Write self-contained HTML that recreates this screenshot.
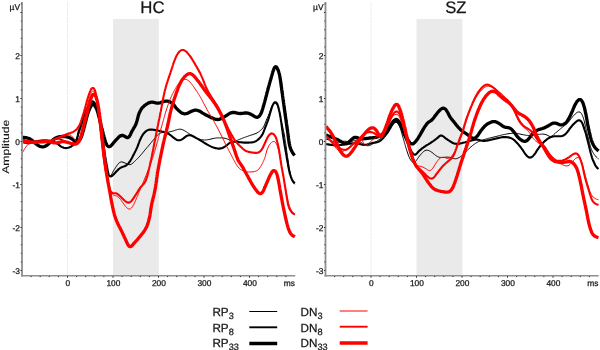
<!DOCTYPE html>
<html><head><meta charset="utf-8"><title>ERP</title>
<style>html,body{margin:0;padding:0;background:#fff;width:600px;height:350px;overflow:hidden}body{font-family:"Liberation Sans",sans-serif}</style>
</head><body>
<svg width="600" height="350" viewBox="0 0 600 350" style="position:absolute;left:0;top:0;font-family:'Liberation Sans',sans-serif;will-change:transform;text-rendering:geometricPrecision">
<style>text{fill:#151515;stroke:#151515;stroke-width:0.25px}</style>
<rect width="600" height="350" fill="#fff"/>
<rect x="113.0" y="19" width="45.8" height="256.3" fill="#ebeaeb"/>
<line x1="67.5" y1="2.5" x2="67.5" y2="275" stroke="#c4c4c4" stroke-width="0.7" stroke-dasharray="0.7,1.1"/>
<rect x="416.5" y="19" width="45.8" height="256.3" fill="#ebeaeb"/>
<line x1="371.0" y1="2.5" x2="371.0" y2="275" stroke="#c4c4c4" stroke-width="0.7" stroke-dasharray="0.7,1.1"/>
<path d="M22.0,141.0L23.1,141.2L24.2,141.4L25.3,141.6L26.3,141.7L27.4,141.8L28.5,141.9L29.6,141.9L30.7,141.9L31.8,141.8L32.9,141.6L34.0,141.4L35.1,141.2L36.2,141.0L37.2,140.8L38.3,140.7L39.4,140.6L40.5,140.6L41.6,140.6L42.7,140.7L43.8,140.9L44.9,141.0L46.0,141.2L47.1,141.3L48.2,141.4L49.3,141.4L50.4,141.4L51.4,141.2L52.5,140.9L53.5,140.5L54.6,140.1L55.6,139.7L56.6,139.4L57.7,139.2L58.8,139.1L59.9,139.2L61.0,139.5L62.0,139.8L63.1,140.2L64.1,140.6L65.1,141.0L66.1,141.4L67.1,141.9L68.1,142.3L69.2,142.7L70.3,142.9L71.3,143.0L72.4,143.0L73.5,142.7L74.5,142.3L75.4,141.6L76.1,140.8L76.7,139.9L77.2,138.9L77.6,137.9L78.0,136.8L78.3,135.8L78.6,134.7L79.0,133.7L79.3,132.6L79.6,131.6L80.0,130.5L80.3,129.5L80.7,128.5L81.0,127.4L81.4,126.4L81.7,125.3L82.1,124.3L82.4,123.2L82.8,122.2L83.1,121.1L83.4,120.1L83.8,119.1L84.1,118.0L84.5,117.0L84.9,115.9L85.2,114.9L85.6,113.9L86.0,112.8L86.4,111.8L86.8,110.8L87.2,109.8L87.6,108.7L88.0,107.7L88.4,106.7L88.9,105.7L89.4,104.7L89.9,103.8L90.5,102.8L91.1,101.9L91.9,101.1L92.9,100.8L93.8,101.4L94.5,102.3L95.0,103.3L95.4,104.3L95.8,105.3L96.1,106.4L96.4,107.4L96.6,108.5L96.9,109.6L97.2,110.6L97.4,111.7L97.6,112.8L97.9,113.9L98.1,114.9L98.3,116.0L98.5,117.1L98.7,118.2L98.9,119.2L99.2,120.3L99.4,121.4L99.6,122.5L99.7,123.6L99.9,124.7L100.1,125.7L100.3,126.8L100.5,127.9L100.6,129.0L100.8,130.1L101.0,131.2L101.1,132.3L101.3,133.3L101.5,134.4L101.6,135.5L101.8,136.6L101.9,137.7L102.1,138.8L102.2,139.9L102.4,141.0L102.5,142.1L102.7,143.1L102.8,144.2L103.0,145.3L103.2,146.4L103.3,147.5L103.5,148.6L103.6,149.7L103.8,150.8L104.0,151.9L104.2,152.9L104.3,154.0L104.5,155.1L104.7,156.2L104.9,157.3L105.1,158.4L105.2,159.4L105.4,160.5L105.6,161.6L105.8,162.7L106.0,163.8L106.2,164.9L106.4,165.9L106.6,167.0L106.9,168.1L107.1,169.2L107.3,170.2L107.6,171.3L107.8,172.4L108.1,173.5L108.4,174.5L108.9,175.5L109.7,176.3L110.7,176.0L111.3,175.1L111.9,174.1L112.3,173.2L112.8,172.2L113.3,171.2L113.9,170.2L114.5,169.3L115.1,168.4L115.7,167.4L116.3,166.5L116.9,165.6L117.5,164.7L118.2,163.9L119.0,163.1L119.8,162.4L120.8,162.0L121.9,161.9L123.0,162.2L124.0,162.6L125.0,163.0L126.0,163.5L127.0,164.0L128.0,164.4L129.1,164.7L130.2,164.6L131.2,164.3L132.1,163.7L133.0,162.9L133.8,162.2L134.6,161.4L135.4,160.7L136.2,159.9L136.9,159.2L137.7,158.4L138.5,157.6L139.2,156.8L140.0,156.0L140.7,155.2L141.4,154.3L142.1,153.5L142.8,152.6L143.5,151.8L144.2,150.9L144.9,150.1L145.6,149.2L146.3,148.4L147.0,147.5L147.8,146.7L148.5,145.9L149.2,145.0L149.9,144.2L150.6,143.3L151.3,142.5L152.0,141.6L152.7,140.8L153.4,139.9L154.1,139.1L154.8,138.2L155.5,137.4L156.2,136.6L156.9,135.8L157.7,134.9L158.5,134.2L159.4,133.5L160.4,133.1L161.4,132.8L162.5,132.6L163.6,132.6L164.7,132.6L165.8,132.5L166.9,132.4L168.0,132.2L169.1,132.0L170.1,131.7L171.2,131.5L172.3,131.2L173.3,130.9L174.4,130.6L175.4,130.2L176.5,129.9L177.5,129.5L178.6,129.3L179.7,129.2L180.8,129.2L181.8,129.5L182.9,129.9L183.9,130.4L184.8,130.9L185.8,131.5L186.7,132.1L187.6,132.7L188.5,133.3L189.5,133.9L190.4,134.4L191.3,135.0L192.3,135.6L193.2,136.2L194.1,136.8L195.0,137.4L196.0,138.0L196.9,138.5L198.0,138.9L199.0,139.2L200.1,139.5L201.2,139.7L202.3,139.8L203.3,139.9L204.4,140.0L205.5,140.0L206.6,139.9L207.7,139.7L208.8,139.5L209.9,139.3L211.0,139.0L212.0,138.8L213.1,138.5L214.2,138.3L215.3,138.1L216.4,138.0L217.4,137.9L218.5,137.9L219.6,137.9L220.7,137.9L221.8,137.9L222.9,138.0L224.0,138.1L225.1,138.3L226.2,138.6L227.2,138.9L228.2,139.4L229.2,139.9L230.1,140.5L231.1,141.0L232.1,141.4L233.2,141.5L234.3,141.4L235.4,141.1L236.4,140.7L237.4,140.3L238.4,139.9L239.4,139.4L240.5,139.0L241.5,138.6L242.5,138.2L243.5,137.8L244.6,137.4L245.6,137.0L246.6,136.7L247.7,136.3L248.7,135.9L249.7,135.6L250.8,135.2L251.8,134.9L252.9,134.6L253.9,134.2L255.0,133.8L256.0,133.4L257.0,132.9L257.9,132.4L258.8,131.8L259.7,131.1L260.5,130.4L261.4,129.7L262.1,128.9L262.8,128.0L263.4,127.1L264.0,126.1L264.4,125.1L264.8,124.1L265.2,123.1L265.6,122.1L266.0,121.0L266.4,120.0L266.9,119.0L267.3,118.0L267.8,117.0L268.2,116.0L268.6,115.0L269.0,113.9L269.4,112.9L269.7,111.9L270.1,110.8L270.4,109.8L270.8,108.8L271.2,107.7L271.7,106.7L272.2,105.8L272.8,104.9L273.6,104.1L274.6,103.5L275.6,103.6L276.5,104.2L277.2,105.0L277.7,106.0L278.1,107.0L278.5,108.1L278.8,109.1L279.1,110.2L279.3,111.3L279.5,112.3L279.7,113.4L279.9,114.5L280.1,115.6L280.3,116.7L280.5,117.7L280.8,118.8L281.0,119.9L281.2,121.0L281.5,122.0L281.7,123.1L282.0,124.2L282.3,125.3L282.5,126.3L282.8,127.4L283.0,128.5L283.3,129.5L283.5,130.6L283.7,131.7L284.0,132.8L284.2,133.8L284.4,134.9L284.6,136.0L284.7,137.1L284.9,138.2L285.1,139.3L285.3,140.4L285.4,141.4L285.6,142.5L285.7,143.6L285.9,144.7L286.0,145.8L286.2,146.9L286.3,148.0L286.5,149.1L286.6,150.2L286.8,151.2L286.9,152.3L287.1,153.4L287.2,154.5L287.4,155.6L287.6,156.7L287.7,157.8L287.9,158.9L288.0,160.0L288.2,161.0L288.4,162.1L288.5,163.2L288.7,164.3L288.9,165.4L289.1,166.5L289.2,167.6L289.4,168.6L289.6,169.7L289.8,170.8L290.0,171.9L290.2,173.0L290.4,174.1L290.6,175.1L290.8,176.2L291.1,177.3L291.4,178.3L291.7,179.4L292.1,180.4L292.5,181.4L293.1,182.4L293.7,183.3L294.4,184.2L294.5,184.3" fill="none" stroke="#000000" stroke-width="1.0" stroke-linejoin="round" stroke-linecap="butt"/>
<path d="M22.0,141.5L23.0,141.9L24.0,142.3L25.1,142.7L26.2,142.9L27.2,143.1L28.3,143.1L29.4,143.1L30.5,143.0L31.6,142.8L32.7,142.5L33.7,142.2L34.8,141.9L35.8,141.6L36.9,141.3L38.0,141.0L39.1,140.8L40.1,140.7L41.2,140.5L42.3,140.5L43.4,140.4L44.5,140.5L45.6,140.5L46.7,140.6L47.8,140.7L48.9,140.8L50.0,141.0L51.1,141.2L52.1,141.5L53.2,141.8L54.2,142.1L55.3,142.6L56.2,143.0L57.2,143.6L58.1,144.2L58.9,144.9L59.8,145.6L60.7,146.3L61.6,146.9L62.6,147.3L63.6,147.7L64.7,148.0L65.8,148.1L66.9,148.0L68.0,147.8L69.0,147.5L70.1,147.1L71.0,146.6L71.9,145.9L72.8,145.3L73.6,144.5L74.4,143.7L75.1,142.9L75.7,142.0L76.2,141.0L76.6,140.0L76.9,138.9L77.2,137.9L77.4,136.8L77.7,135.7L77.9,134.6L78.1,133.6L78.4,132.5L78.7,131.4L79.0,130.4L79.4,129.3L79.8,128.3L80.2,127.3L80.5,126.2L80.9,125.2L81.3,124.2L81.7,123.1L82.0,122.1L82.4,121.1L82.8,120.0L83.1,119.0L83.5,118.0L83.9,116.9L84.2,115.9L84.6,114.8L85.0,113.8L85.3,112.8L85.7,111.7L86.1,110.7L86.5,109.7L87.0,108.7L87.4,107.7L88.0,106.7L88.5,105.8L89.1,104.9L89.8,104.0L90.4,103.1L91.2,102.3L92.1,101.7L93.2,101.7L94.1,102.4L94.8,103.2L95.4,104.1L95.9,105.1L96.3,106.1L96.7,107.1L97.0,108.2L97.3,109.3L97.6,110.3L97.9,111.4L98.1,112.5L98.3,113.5L98.6,114.6L98.8,115.7L99.0,116.8L99.2,117.9L99.4,118.9L99.6,120.0L99.8,121.1L100.0,122.2L100.2,123.3L100.4,124.3L100.6,125.4L100.7,126.5L100.9,127.6L101.1,128.7L101.3,129.8L101.5,130.9L101.6,131.9L101.8,133.0L102.0,134.1L102.1,135.2L102.3,136.3L102.4,137.4L102.6,138.5L102.8,139.6L102.9,140.6L103.1,141.7L103.2,142.8L103.4,143.9L103.5,145.0L103.7,146.1L103.8,147.2L104.0,148.3L104.2,149.4L104.3,150.5L104.5,151.5L104.6,152.6L104.8,153.7L105.0,154.8L105.1,155.9L105.3,157.0L105.5,158.1L105.7,159.1L105.8,160.2L106.0,161.3L106.2,162.4L106.4,163.5L106.6,164.6L106.8,165.7L107.0,166.7L107.2,167.8L107.4,168.9L107.6,170.0L107.8,171.1L108.0,172.1L108.3,173.2L108.6,174.3L109.0,175.3L109.7,176.2L110.7,176.5L111.7,176.1L112.5,175.4L113.3,174.7L114.1,173.9L114.9,173.1L115.6,172.3L116.3,171.5L117.1,170.7L117.9,169.9L118.7,169.1L119.5,168.5L120.5,167.8L121.4,167.3L122.5,166.9L123.5,166.6L124.5,166.2L125.5,165.7L126.5,165.2L127.3,164.5L128.1,163.7L128.8,162.9L129.5,162.0L130.1,161.1L130.7,160.1L131.2,159.2L131.8,158.2L132.3,157.3L132.8,156.3L133.3,155.3L133.8,154.3L134.3,153.4L134.8,152.4L135.3,151.4L135.8,150.4L136.3,149.4L136.7,148.4L137.2,147.4L137.6,146.4L138.0,145.4L138.3,144.3L138.7,143.3L139.1,142.3L139.5,141.2L139.9,140.2L140.4,139.2L140.9,138.2L141.3,137.2L141.9,136.3L142.4,135.3L143.0,134.4L143.7,133.5L144.4,132.7L145.2,131.9L146.0,131.2L146.9,130.6L147.9,130.1L149.0,129.8L150.0,129.6L151.1,129.5L152.2,129.6L153.3,129.7L154.4,129.9L155.5,130.1L156.6,130.3L157.7,130.5L158.7,130.7L159.8,131.0L160.9,131.2L161.9,131.5L163.0,131.8L164.1,132.1L165.1,132.4L166.1,132.8L167.2,133.2L168.2,133.7L169.1,134.2L170.0,134.8L170.9,135.5L171.8,136.2L172.6,136.9L173.5,137.6L174.3,138.2L175.2,138.9L176.1,139.5L177.1,140.0L178.2,140.3L179.3,140.3L180.3,140.1L181.4,139.7L182.3,139.2L183.2,138.6L184.1,137.9L185.0,137.2L185.8,136.5L186.8,135.9L187.8,135.5L188.8,135.2L189.9,135.2L191.0,135.4L192.0,135.8L193.0,136.3L194.0,136.8L195.0,137.3L195.9,137.8L196.9,138.4L197.9,138.9L198.8,139.5L199.8,140.0L200.7,140.6L201.7,141.1L202.6,141.7L203.5,142.3L204.5,142.9L205.4,143.5L206.3,144.0L207.3,144.6L208.3,145.1L209.2,145.6L210.2,146.1L211.2,146.6L212.2,147.0L213.3,147.4L214.3,147.7L215.3,148.1L216.4,148.3L217.5,148.5L218.6,148.6L219.7,148.6L220.8,148.4L221.8,148.2L222.9,147.7L223.8,147.3L224.8,146.7L225.7,146.1L226.6,145.5L227.4,144.7L228.3,144.0L229.1,143.3L230.0,142.7L231.0,142.2L232.1,141.9L233.1,141.8L234.2,141.8L235.3,141.8L236.4,141.9L237.5,142.0L238.6,142.1L239.7,142.2L240.8,142.3L241.9,142.4L243.0,142.5L244.1,142.6L245.2,142.6L246.3,142.6L247.4,142.6L248.5,142.6L249.6,142.5L250.7,142.5L251.8,142.4L252.9,142.2L254.0,141.9L255.0,141.6L256.0,141.1L256.9,140.5L257.8,139.9L258.6,139.1L259.4,138.4L260.2,137.6L260.9,136.7L261.5,135.8L262.1,134.9L262.7,134.0L263.1,133.0L263.6,131.9L263.9,130.9L264.3,129.9L264.7,128.8L265.1,127.8L265.5,126.8L265.9,125.8L266.3,124.8L266.7,123.7L267.1,122.7L267.5,121.7L267.9,120.6L268.2,119.6L268.6,118.6L268.9,117.5L269.2,116.5L269.5,115.4L269.8,114.3L270.1,113.3L270.4,112.2L270.7,111.2L271.0,110.1L271.3,109.1L271.7,108.0L272.0,107.0L272.4,105.9L272.9,104.9L273.4,103.9L273.9,103.0L274.7,102.3L275.8,102.2L276.6,103.0L277.2,103.9L277.6,104.9L278.0,106.0L278.3,107.0L278.6,108.1L278.8,109.2L279.1,110.2L279.3,111.3L279.6,112.4L279.8,113.5L280.0,114.5L280.2,115.6L280.4,116.7L280.6,117.8L280.7,118.9L280.9,120.0L281.1,121.0L281.2,122.1L281.4,123.2L281.5,124.3L281.7,125.4L281.8,126.5L282.0,127.6L282.1,128.7L282.3,129.8L282.4,130.9L282.6,131.9L282.7,133.0L282.9,134.1L283.0,135.2L283.2,136.3L283.4,137.4L283.5,138.5L283.7,139.6L283.9,140.6L284.1,141.7L284.2,142.8L284.4,143.9L284.6,145.0L284.8,146.1L285.0,147.2L285.2,148.2L285.3,149.3L285.5,150.4L285.7,151.5L285.9,152.6L286.1,153.7L286.3,154.7L286.5,155.8L286.6,156.9L286.8,158.0L287.0,159.1L287.2,160.2L287.4,161.2L287.6,162.3L287.8,163.4L288.0,164.5L288.1,165.6L288.3,166.7L288.6,167.7L288.8,168.8L289.0,169.9L289.2,171.0L289.5,172.0L289.7,173.1L290.0,174.2L290.4,175.2L290.7,176.3L291.1,177.3L291.4,178.3L291.9,179.4L292.4,180.3L292.9,181.3L293.7,182.1L294.5,182.8L295.0,183.2" fill="none" stroke="#000000" stroke-width="2.1" stroke-linejoin="round" stroke-linecap="butt"/>
<path d="M22.0,137.3L23.1,137.4L24.2,137.5L25.3,137.6L26.4,137.7L27.4,138.0L28.5,138.3L29.5,138.8L30.5,139.3L31.4,139.9L32.3,140.6L33.1,141.3L33.9,142.0L34.7,142.7L35.6,143.5L36.4,144.1L37.3,144.8L38.2,145.4L39.2,146.0L40.2,146.4L41.2,146.7L42.3,146.8L43.4,146.8L44.5,146.5L45.5,146.1L46.5,145.6L47.3,144.9L48.2,144.2L49.0,143.5L49.8,142.7L50.6,142.0L51.4,141.2L52.2,140.5L53.1,139.8L53.9,139.1L54.9,138.5L55.8,138.0L56.8,137.5L57.9,137.1L58.9,136.9L60.0,136.7L61.1,136.6L62.2,136.5L63.3,136.5L64.4,136.6L65.5,136.7L66.6,136.9L67.7,137.1L68.7,137.4L69.7,137.8L70.7,138.3L71.7,138.8L72.6,139.4L73.5,140.1L74.4,140.7L75.3,141.3L76.4,141.6L77.5,141.6L78.5,141.1L79.3,140.4L79.9,139.5L80.5,138.6L81.0,137.6L81.4,136.6L81.8,135.5L82.1,134.5L82.5,133.4L82.8,132.4L83.1,131.3L83.4,130.3L83.7,129.2L83.9,128.1L84.2,127.1L84.5,126.0L84.8,124.9L85.0,123.9L85.3,122.8L85.6,121.8L85.9,120.7L86.1,119.6L86.4,118.6L86.7,117.5L87.0,116.4L87.3,115.4L87.6,114.3L87.9,113.3L88.3,112.2L88.7,111.2L89.1,110.2L89.5,109.2L89.9,108.2L90.4,107.2L90.9,106.2L91.5,105.3L92.4,104.6L93.4,104.6L94.3,105.2L95.0,106.1L95.6,107.0L96.1,108.0L96.6,109.0L97.0,110.0L97.3,111.0L97.7,112.1L98.0,113.1L98.3,114.2L98.5,115.3L98.8,116.3L99.1,117.4L99.4,118.5L99.6,119.5L99.9,120.6L100.1,121.7L100.4,122.7L100.7,123.8L100.9,124.9L101.2,125.9L101.5,127.0L101.8,128.1L102.1,129.1L102.3,130.2L102.6,131.3L102.9,132.3L103.1,133.4L103.4,134.5L103.7,135.5L104.0,136.6L104.3,137.6L104.6,138.7L104.9,139.8L105.2,140.8L105.5,141.8L105.9,142.9L106.4,143.9L106.8,144.9L107.4,145.8L108.3,146.5L109.4,146.6L110.4,146.2L111.2,145.5L112.0,144.7L112.7,143.9L113.4,143.0L114.1,142.2L114.8,141.3L115.6,140.5L116.3,139.7L117.1,138.9L117.8,138.1L118.6,137.3L119.4,136.6L120.3,135.9L121.3,135.5L122.4,135.4L123.5,135.6L124.4,136.1L125.3,136.8L126.3,137.3L127.4,137.6L128.4,137.3L129.2,136.6L129.8,135.6L130.3,134.7L130.8,133.7L131.2,132.7L131.7,131.7L132.2,130.7L132.8,129.8L133.4,128.8L133.9,127.9L134.5,126.9L135.0,126.0L135.5,125.0L136.0,124.0L136.3,123.0L136.7,121.9L137.0,120.9L137.3,119.8L137.6,118.7L137.8,117.7L138.1,116.6L138.4,115.5L138.7,114.5L139.1,113.4L139.5,112.4L140.0,111.4L140.5,110.5L141.0,109.5L141.7,108.6L142.3,107.7L143.1,106.9L143.9,106.2L144.7,105.4L145.6,104.8L146.5,104.1L147.4,103.6L148.4,103.0L149.4,102.6L150.4,102.3L151.5,102.1L152.6,102.2L153.7,102.4L154.8,102.6L155.8,102.9L156.9,103.1L158.0,103.1L159.1,103.0L160.2,102.8L161.2,102.4L162.3,102.0L163.3,101.7L164.3,101.4L165.4,101.2L166.5,101.1L167.6,101.2L168.7,101.4L169.7,101.8L170.7,102.3L171.6,102.9L172.5,103.6L173.3,104.3L174.0,105.2L174.7,106.0L175.3,106.9L176.0,107.8L176.7,108.6L177.5,109.4L178.3,110.2L179.1,110.9L179.9,111.6L180.8,112.3L181.7,112.9L182.7,113.4L183.8,113.7L184.8,113.8L185.9,113.7L187.0,113.4L188.0,113.1L189.0,112.6L190.0,112.1L191.0,111.6L192.0,111.1L193.0,110.7L194.1,110.4L195.1,110.2L196.2,110.2L197.3,110.3L198.4,110.7L199.4,111.1L200.4,111.6L201.3,112.2L202.2,112.8L203.2,113.4L204.1,113.9L205.0,114.5L206.0,115.0L207.0,115.5L208.0,116.0L209.0,116.4L210.0,116.9L211.0,117.4L212.0,117.9L213.0,118.3L214.0,118.7L215.0,119.1L216.1,119.3L217.2,119.5L218.3,119.5L219.4,119.3L220.4,118.9L221.4,118.4L222.4,117.9L223.3,117.4L224.3,116.8L225.2,116.3L226.2,115.7L227.1,115.1L228.0,114.5L228.9,113.9L229.9,113.3L230.9,112.9L231.9,112.6L233.0,112.4L234.1,112.5L235.2,112.6L236.3,112.8L237.4,113.1L238.4,113.3L239.5,113.5L240.6,113.5L241.7,113.4L242.8,113.3L243.9,113.1L245.0,113.0L246.1,112.9L247.2,113.0L248.3,113.2L249.3,113.6L250.3,114.0L251.3,114.5L252.2,115.1L253.2,115.6L254.1,116.2L255.1,116.7L256.1,117.1L257.2,117.3L258.2,117.0L259.1,116.3L259.8,115.5L260.4,114.5L260.9,113.6L261.4,112.6L261.8,111.5L262.1,110.5L262.5,109.5L262.8,108.4L263.1,107.4L263.4,106.3L263.7,105.3L264.0,104.2L264.3,103.1L264.6,102.1L264.9,101.0L265.2,99.9L265.5,98.9L265.7,97.8L266.0,96.8L266.3,95.7L266.6,94.6L266.8,93.6L267.1,92.5L267.4,91.4L267.7,90.4L268.0,89.3L268.2,88.2L268.5,87.2L268.8,86.1L269.1,85.1L269.4,84.0L269.7,82.9L270.0,81.9L270.3,80.8L270.6,79.8L270.9,78.7L271.2,77.6L271.5,76.6L271.8,75.5L272.1,74.5L272.4,73.4L272.7,72.4L273.0,71.3L273.4,70.3L273.8,69.2L274.2,68.2L274.7,67.3L275.6,66.7L276.5,67.1L277.1,68.1L277.6,69.1L278.0,70.1L278.5,71.1L278.8,72.1L279.1,73.2L279.4,74.2L279.6,75.3L279.8,76.4L280.0,77.5L280.2,78.6L280.4,79.7L280.5,80.8L280.7,81.8L280.8,82.9L281.0,84.0L281.1,85.1L281.3,86.2L281.4,87.3L281.6,88.4L281.7,89.5L281.9,90.6L282.0,91.6L282.2,92.7L282.3,93.8L282.5,94.9L282.6,96.0L282.8,97.1L282.9,98.2L283.1,99.3L283.2,100.4L283.4,101.5L283.5,102.5L283.7,103.6L283.8,104.7L284.0,105.8L284.1,106.9L284.3,108.0L284.4,109.1L284.6,110.2L284.7,111.3L284.9,112.4L285.0,113.4L285.2,114.5L285.3,115.6L285.5,116.7L285.6,117.8L285.8,118.9L286.0,120.0L286.1,121.1L286.3,122.2L286.4,123.2L286.6,124.3L286.7,125.4L286.9,126.5L287.0,127.6L287.2,128.7L287.4,129.8L287.5,130.9L287.7,132.0L287.8,133.0L288.0,134.1L288.1,135.2L288.2,136.3L288.4,137.4L288.5,138.5L288.7,139.6L288.8,140.7L289.0,141.8L289.1,142.9L289.3,143.9L289.6,145.0L289.8,146.1L290.1,147.1L290.4,148.2L290.8,149.2L291.3,150.2L291.8,151.2L292.3,152.1L292.9,153.1L293.5,154.0L294.1,154.9L294.5,155.5" fill="none" stroke="#000000" stroke-width="3.3" stroke-linejoin="round" stroke-linecap="butt"/>
<path d="M22.0,153.5L22.5,152.5L23.0,151.6L23.6,150.6L24.1,149.7L24.7,148.7L25.3,147.8L25.9,146.9L26.6,146.0L27.3,145.2L28.1,144.4L29.0,143.7L29.9,143.1L30.9,142.6L31.9,142.2L32.9,141.8L34.0,141.4L35.0,141.2L36.1,141.1L37.2,141.1L38.3,141.2L39.4,141.4L40.5,141.6L41.6,141.8L42.7,141.9L43.8,141.9L44.9,141.9L46.0,141.8L47.0,141.6L48.1,141.4L49.2,141.2L50.3,140.9L51.3,140.7L52.4,140.4L53.5,140.2L54.6,139.9L55.6,139.6L56.7,139.4L57.7,139.1L58.8,138.7L59.8,138.3L60.9,138.0L61.9,137.5L62.9,137.1L63.9,136.7L64.9,136.3L65.9,135.8L66.9,135.4L68.0,135.1L69.1,134.9L70.1,135.0L71.1,135.5L71.9,136.3L72.7,137.1L73.3,138.0L74.0,138.8L74.7,139.7L75.4,140.5L76.3,141.1L77.4,141.0L78.2,140.2L78.8,139.3L79.2,138.3L79.6,137.3L80.0,136.2L80.3,135.2L80.6,134.1L80.9,133.1L81.2,132.0L81.5,130.9L81.8,129.9L82.1,128.8L82.4,127.7L82.6,126.7L82.9,125.6L83.2,124.5L83.4,123.5L83.7,122.4L83.9,121.3L84.2,120.3L84.4,119.2L84.7,118.1L84.9,117.1L85.2,116.0L85.4,114.9L85.6,113.8L85.8,112.7L86.0,111.7L86.3,110.6L86.5,109.5L86.7,108.4L87.0,107.4L87.2,106.3L87.5,105.2L87.7,104.2L88.0,103.1L88.3,102.0L88.5,101.0L88.8,99.9L89.1,98.8L89.4,97.8L89.8,96.7L90.1,95.7L90.5,94.6L90.9,93.6L91.3,92.6L91.8,91.7L92.7,90.9L93.7,91.1L94.4,92.0L94.8,93.0L95.2,94.0L95.5,95.1L95.8,96.2L96.0,97.2L96.2,98.3L96.4,99.4L96.6,100.5L96.8,101.6L96.9,102.6L97.1,103.7L97.3,104.8L97.4,105.9L97.6,107.0L97.7,108.1L97.9,109.2L98.0,110.3L98.2,111.4L98.3,112.5L98.4,113.5L98.6,114.6L98.7,115.7L98.8,116.8L99.0,117.9L99.1,119.0L99.2,120.1L99.3,121.2L99.5,122.3L99.6,123.4L99.7,124.5L99.8,125.6L99.9,126.7L100.1,127.8L100.2,128.8L100.3,129.9L100.4,131.0L100.6,132.1L100.7,133.2L100.8,134.3L100.9,135.4L101.1,136.5L101.2,137.6L101.3,138.7L101.4,139.8L101.6,140.9L101.7,142.0L101.8,143.1L101.9,144.1L102.1,145.2L102.2,146.3L102.3,147.4L102.4,148.5L102.6,149.6L102.7,150.7L102.8,151.8L103.0,152.9L103.1,154.0L103.2,155.1L103.4,156.2L103.5,157.3L103.6,158.3L103.8,159.4L103.9,160.5L104.1,161.6L104.3,162.7L104.4,163.8L104.6,164.9L104.8,166.0L104.9,167.0L105.1,168.1L105.3,169.2L105.5,170.3L105.7,171.4L105.9,172.5L106.1,173.5L106.3,174.6L106.5,175.7L106.8,176.8L107.0,177.9L107.2,178.9L107.4,180.0L107.7,181.1L107.9,182.2L108.1,183.2L108.4,184.3L108.7,185.4L108.9,186.4L109.2,187.5L109.5,188.5L109.9,189.6L110.3,190.6L110.7,191.6L111.2,192.6L111.8,193.5L112.6,194.3L113.4,195.0L114.5,195.4L115.5,195.7L116.6,196.0L117.5,196.5L118.4,197.2L119.2,198.0L119.9,198.8L120.7,199.6L121.3,200.5L122.0,201.4L122.6,202.3L123.2,203.2L123.9,204.1L124.5,205.0L125.1,205.9L125.8,206.7L126.6,207.5L127.4,208.3L128.3,208.8L129.4,209.1L130.5,208.8L131.3,208.1L132.1,207.3L132.7,206.4L133.2,205.4L133.8,204.5L134.2,203.5L134.7,202.5L135.2,201.5L135.6,200.5L136.0,199.5L136.5,198.4L136.9,197.4L137.3,196.4L137.8,195.4L138.2,194.4L138.6,193.4L139.0,192.4L139.4,191.3L139.9,190.3L140.3,189.3L140.7,188.3L141.1,187.3L141.6,186.3L142.0,185.2L142.4,184.2L142.8,183.2L143.3,182.2L143.7,181.2L144.1,180.2L144.5,179.1L144.9,178.1L145.3,177.1L145.8,176.1L146.2,175.1L146.6,174.1L147.0,173.0L147.4,172.0L147.8,171.0L148.2,170.0L148.6,169.0L149.0,167.9L149.5,166.9L149.9,165.9L150.3,164.9L150.6,163.8L151.0,162.8L151.4,161.8L151.7,160.7L152.1,159.7L152.4,158.6L152.8,157.6L153.1,156.5L153.4,155.5L153.7,154.4L154.0,153.4L154.4,152.3L154.7,151.3L155.0,150.2L155.3,149.1L155.6,148.1L155.9,147.0L156.2,146.0L156.5,144.9L156.8,143.9L157.1,142.8L157.4,141.7L157.7,140.7L158.0,139.6L158.2,138.6L158.5,137.5L158.8,136.4L159.1,135.4L159.4,134.3L159.7,133.3L160.0,132.2L160.3,131.1L160.6,130.1L160.9,129.0L161.2,128.0L161.5,126.9L161.8,125.8L162.1,124.8L162.4,123.7L162.7,122.7L163.0,121.6L163.3,120.5L163.6,119.5L163.9,118.4L164.2,117.4L164.5,116.3L164.8,115.3L165.1,114.2L165.4,113.1L165.7,112.1L166.0,111.0L166.4,110.0L166.7,108.9L167.0,107.9L167.4,106.9L167.7,105.8L168.1,104.8L168.5,103.7L168.9,102.7L169.2,101.7L169.6,100.7L170.0,99.6L170.5,98.6L170.9,97.6L171.3,96.6L171.8,95.6L172.2,94.6L172.7,93.6L173.2,92.6L173.7,91.6L174.2,90.7L174.8,89.7L175.3,88.7L175.9,87.8L176.5,86.9L177.1,85.9L177.7,85.0L178.3,84.1L179.0,83.3L179.7,82.4L180.4,81.6L181.2,80.9L182.1,80.2L183.1,79.7L184.1,79.3L185.2,79.3L186.3,79.5L187.3,79.9L188.2,80.5L189.1,81.2L189.9,82.0L190.6,82.8L191.3,83.6L192.0,84.5L192.6,85.4L193.3,86.3L193.9,87.2L194.5,88.1L195.2,89.0L195.8,89.9L196.4,90.8L197.0,91.7L197.6,92.6L198.2,93.6L198.8,94.5L199.4,95.4L199.9,96.4L200.5,97.3L201.0,98.3L201.6,99.2L202.1,100.2L202.6,101.2L203.1,102.2L203.6,103.1L204.1,104.1L204.6,105.1L205.2,106.1L205.7,107.0L206.2,108.0L206.7,109.0L207.2,109.9L207.8,110.9L208.3,111.8L208.9,112.8L209.4,113.7L210.0,114.7L210.5,115.6L211.1,116.6L211.7,117.5L212.2,118.5L212.8,119.4L213.3,120.4L213.9,121.4L214.4,122.3L214.9,123.3L215.5,124.2L216.0,125.2L216.5,126.2L217.1,127.1L217.6,128.1L218.1,129.1L218.6,130.0L219.1,131.0L219.6,132.0L220.1,133.0L220.6,134.0L221.1,135.0L221.5,136.0L222.0,136.9L222.5,137.9L223.0,138.9L223.5,139.9L224.0,140.9L224.5,141.9L224.9,142.9L225.4,143.8L225.9,144.8L226.4,145.8L226.9,146.8L227.4,147.8L227.9,148.7L228.4,149.7L228.9,150.7L229.5,151.7L230.0,152.7L230.5,153.6L231.0,154.6L231.5,155.6L232.0,156.6L232.5,157.5L233.0,158.5L233.5,159.5L234.0,160.4L234.6,161.4L235.1,162.4L235.6,163.3L236.2,164.3L236.8,165.2L237.4,166.1L238.1,167.0L238.8,167.8L239.5,168.6L240.4,169.3L241.3,169.9L242.3,170.4L243.3,170.8L244.4,171.1L245.4,171.5L246.5,171.7L247.6,171.9L248.7,172.0L249.8,172.0L250.9,171.9L252.0,171.9L253.1,171.8L254.2,171.6L255.2,171.3L256.3,170.9L257.2,170.4L258.1,169.7L258.9,169.0L259.6,168.1L260.2,167.2L260.8,166.3L261.4,165.4L261.9,164.4L262.4,163.4L262.9,162.4L263.3,161.4L263.8,160.4L264.2,159.4L264.6,158.4L265.0,157.3L265.3,156.3L265.6,155.2L265.8,154.2L266.1,153.1L266.4,152.0L266.7,151.0L267.1,149.9L267.5,148.9L267.9,147.9L268.3,146.9L268.8,145.9L269.4,145.0L270.0,144.1L270.7,143.2L271.5,142.5L272.4,141.8L273.5,141.5L274.5,141.6L275.4,142.3L276.0,143.2L276.5,144.2L277.0,145.2L277.3,146.2L277.7,147.2L278.0,148.3L278.3,149.4L278.6,150.4L278.8,151.5L279.1,152.6L279.3,153.6L279.5,154.7L279.7,155.8L279.9,156.9L280.1,158.0L280.3,159.1L280.5,160.1L280.7,161.2L280.9,162.3L281.1,163.4L281.3,164.5L281.5,165.6L281.6,166.6L281.8,167.7L282.0,168.8L282.2,169.9L282.4,171.0L282.6,172.1L282.8,173.1L283.0,174.2L283.2,175.3L283.3,176.4L283.5,177.5L283.7,178.6L283.9,179.6L284.1,180.7L284.3,181.8L284.5,182.9L284.7,184.0L284.9,185.0L285.1,186.1L285.3,187.2L285.5,188.3L285.7,189.4L285.9,190.5L286.1,191.5L286.3,192.6L286.5,193.7L286.7,194.8L286.9,195.9L287.2,196.9L287.4,198.0L287.6,199.1L287.8,200.2L288.1,201.2L288.3,202.3L288.6,203.4L288.9,204.4L289.3,205.5L289.7,206.5L290.1,207.5L290.5,208.5L291.0,209.5L291.5,210.5L292.2,211.4L292.9,212.2L293.7,212.9L294.5,213.5" fill="none" stroke="#ff0000" stroke-width="1.0" stroke-linejoin="round" stroke-linecap="butt"/>
<path d="M22.0,142.0L23.1,142.3L24.1,142.5L25.2,142.7L26.3,142.8L27.4,142.8L28.5,142.6L29.5,142.2L30.6,141.9L31.7,141.7L32.8,141.6L33.9,141.6L34.9,141.7L36.0,141.8L37.1,141.9L38.2,142.0L39.3,142.2L40.4,142.3L41.5,142.4L42.6,142.5L43.7,142.4L44.8,142.3L45.9,142.2L47.0,141.9L48.0,141.6L49.1,141.3L50.1,140.9L51.1,140.6L52.2,140.1L53.2,139.7L54.2,139.3L55.2,138.9L56.2,138.4L57.2,138.0L58.2,137.6L59.3,137.2L60.3,136.8L61.3,136.4L62.3,135.9L63.3,135.5L64.3,135.1L65.4,134.7L66.4,134.3L67.4,133.9L68.5,133.5L69.5,133.2L70.6,132.9L71.6,132.5L72.6,132.1L73.6,131.6L74.5,131.0L75.4,130.4L76.3,129.7L77.0,128.9L77.7,128.0L78.3,127.1L78.9,126.1L79.4,125.2L79.9,124.2L80.3,123.2L80.7,122.1L81.0,121.1L81.4,120.1L81.7,119.0L82.0,118.0L82.4,116.9L82.7,115.9L83.0,114.8L83.4,113.8L83.7,112.7L84.0,111.7L84.3,110.6L84.6,109.5L84.9,108.5L85.2,107.4L85.5,106.4L85.8,105.3L86.0,104.2L86.3,103.2L86.6,102.1L86.9,101.0L87.2,100.0L87.5,98.9L87.9,97.9L88.2,96.8L88.5,95.8L88.9,94.7L89.3,93.7L89.6,92.7L90.0,91.7L90.5,90.6L90.9,89.6L91.5,88.7L92.3,88.0L93.4,88.1L94.2,88.9L94.7,89.8L95.1,90.8L95.4,91.9L95.7,93.0L95.9,94.0L96.1,95.1L96.3,96.2L96.5,97.3L96.7,98.4L96.9,99.5L97.0,100.5L97.2,101.6L97.3,102.7L97.5,103.8L97.6,104.9L97.7,106.0L97.9,107.1L98.0,108.2L98.2,109.3L98.3,110.4L98.4,111.5L98.5,112.5L98.7,113.6L98.8,114.7L98.9,115.8L99.0,116.9L99.2,118.0L99.3,119.1L99.4,120.2L99.5,121.3L99.6,122.4L99.7,123.5L99.9,124.6L100.0,125.7L100.1,126.8L100.2,127.9L100.3,128.9L100.4,130.0L100.6,131.1L100.7,132.2L100.8,133.3L100.9,134.4L101.1,135.5L101.2,136.6L101.3,137.7L101.4,138.8L101.6,139.9L101.7,141.0L101.8,142.1L101.9,143.2L102.1,144.3L102.2,145.3L102.3,146.4L102.4,147.5L102.6,148.6L102.7,149.7L102.8,150.8L102.9,151.9L103.1,153.0L103.2,154.1L103.4,155.2L103.5,156.3L103.6,157.4L103.8,158.4L103.9,159.5L104.1,160.6L104.3,161.7L104.4,162.8L104.6,163.9L104.8,165.0L104.9,166.1L105.1,167.1L105.3,168.2L105.5,169.3L105.7,170.4L105.9,171.5L106.1,172.6L106.3,173.6L106.5,174.7L106.8,175.8L107.0,176.9L107.2,177.9L107.4,179.0L107.6,180.1L107.8,181.2L108.1,182.3L108.3,183.3L108.5,184.4L108.8,185.5L109.0,186.6L109.3,187.6L109.6,188.7L110.0,189.7L110.4,190.7L111.0,191.7L111.7,192.5L112.7,193.0L113.7,193.3L114.8,193.2L115.9,193.3L117.0,193.7L117.9,194.3L118.8,194.9L119.6,195.7L120.4,196.4L121.2,197.2L121.9,198.0L122.7,198.8L123.5,199.6L124.3,200.3L125.1,201.0L126.0,201.7L126.9,202.3L127.9,202.6L129.0,202.6L130.0,202.2L130.9,201.5L131.7,200.7L132.3,199.9L133.0,199.0L133.6,198.1L134.2,197.2L134.8,196.2L135.4,195.3L136.0,194.4L136.6,193.4L137.1,192.5L137.7,191.6L138.3,190.6L138.9,189.7L139.5,188.8L140.1,187.9L140.8,187.0L141.5,186.2L142.3,185.4L143.0,184.6L143.8,183.8L144.4,182.9L145.0,181.9L145.5,181.0L146.0,180.0L146.4,178.9L146.7,177.9L147.0,176.9L147.4,175.8L147.6,174.7L147.9,173.7L148.2,172.6L148.4,171.5L148.7,170.5L148.9,169.4L149.2,168.3L149.4,167.2L149.7,166.2L149.9,165.1L150.1,164.0L150.4,162.9L150.6,161.9L150.8,160.8L151.1,159.7L151.3,158.6L151.5,157.6L151.8,156.5L152.0,155.4L152.2,154.3L152.4,153.3L152.6,152.2L152.9,151.1L153.1,150.0L153.3,148.9L153.5,147.9L153.7,146.8L153.9,145.7L154.1,144.6L154.3,143.5L154.5,142.5L154.7,141.4L155.0,140.3L155.2,139.2L155.4,138.1L155.6,137.1L155.8,136.0L156.0,134.9L156.2,133.8L156.4,132.8L156.7,131.7L156.9,130.6L157.1,129.5L157.3,128.4L157.5,127.4L157.7,126.3L158.0,125.2L158.2,124.1L158.4,123.0L158.6,122.0L158.8,120.9L159.0,119.8L159.3,118.7L159.5,117.7L159.7,116.6L159.9,115.5L160.1,114.4L160.3,113.3L160.5,112.3L160.8,111.2L161.0,110.1L161.2,109.0L161.4,107.9L161.6,106.9L161.8,105.8L162.0,104.7L162.2,103.6L162.4,102.5L162.6,101.5L162.8,100.4L163.0,99.3L163.2,98.2L163.4,97.1L163.6,96.0L163.9,95.0L164.1,93.9L164.3,92.8L164.6,91.8L164.8,90.7L165.1,89.6L165.4,88.6L165.7,87.5L166.0,86.4L166.3,85.4L166.6,84.3L166.9,83.3L167.3,82.2L167.6,81.2L167.9,80.1L168.3,79.1L168.6,78.0L169.0,77.0L169.3,76.0L169.7,74.9L170.0,73.9L170.4,72.8L170.7,71.8L171.1,70.7L171.4,69.7L171.7,68.6L172.1,67.6L172.4,66.6L172.8,65.5L173.1,64.5L173.4,63.4L173.8,62.4L174.2,61.3L174.6,60.3L175.0,59.3L175.4,58.3L175.9,57.3L176.3,56.3L176.8,55.3L177.4,54.3L177.9,53.4L178.6,52.5L179.3,51.7L180.2,51.0L181.1,50.4L182.1,50.0L183.2,50.0L184.3,50.3L185.2,50.8L186.1,51.5L186.9,52.3L187.6,53.1L188.3,53.9L189.0,54.8L189.7,55.7L190.3,56.5L191.0,57.4L191.6,58.4L192.2,59.3L192.7,60.2L193.3,61.2L193.9,62.1L194.4,63.1L195.0,64.0L195.5,65.0L196.1,65.9L196.6,66.9L197.2,67.8L197.7,68.8L198.3,69.7L198.8,70.7L199.3,71.7L199.9,72.6L200.4,73.6L200.8,74.6L201.3,75.6L201.7,76.6L202.2,77.6L202.6,78.6L203.0,79.7L203.4,80.7L203.8,81.7L204.2,82.7L204.6,83.8L205.0,84.8L205.4,85.8L205.8,86.8L206.2,87.8L206.7,88.8L207.2,89.8L207.7,90.8L208.2,91.8L208.8,92.7L209.3,93.7L209.9,94.6L210.5,95.5L211.1,96.5L211.7,97.4L212.3,98.3L212.8,99.3L213.4,100.2L214.0,101.1L214.6,102.0L215.2,103.0L215.8,103.9L216.4,104.8L216.9,105.8L217.5,106.7L218.0,107.7L218.6,108.6L219.0,109.6L219.5,110.6L220.0,111.6L220.4,112.6L220.9,113.6L221.3,114.7L221.7,115.7L222.2,116.7L222.6,117.7L223.1,118.7L223.6,119.7L224.1,120.6L224.6,121.6L225.1,122.6L225.6,123.6L226.1,124.6L226.6,125.5L227.1,126.5L227.6,127.5L228.1,128.5L228.6,129.4L229.1,130.4L229.6,131.4L230.2,132.3L230.7,133.3L231.2,134.3L231.8,135.2L232.3,136.2L232.9,137.1L233.4,138.1L234.0,139.0L234.6,139.9L235.3,140.8L235.9,141.7L236.6,142.5L237.4,143.4L238.1,144.2L238.9,145.0L239.7,145.7L240.5,146.5L241.3,147.3L242.1,148.0L242.9,148.8L243.7,149.5L244.6,150.1L245.5,150.7L246.5,151.2L247.6,151.5L248.6,151.9L249.7,152.1L250.8,152.3L251.9,152.5L252.9,152.6L254.0,152.8L255.1,152.9L256.2,152.9L257.3,152.8L258.4,152.5L259.4,152.0L260.2,151.3L261.0,150.5L261.6,149.7L262.2,148.7L262.8,147.8L263.2,146.8L263.7,145.8L264.2,144.8L264.6,143.8L265.1,142.8L265.5,141.8L266.0,140.8L266.4,139.8L266.9,138.8L267.4,137.8L267.9,136.8L268.5,135.9L269.2,135.0L270.0,134.3L270.9,133.6L271.9,133.4L273.0,133.7L273.8,134.4L274.5,135.3L275.2,136.2L275.7,137.1L276.1,138.1L276.5,139.2L276.8,140.2L277.1,141.3L277.4,142.4L277.7,143.4L277.9,144.5L278.1,145.6L278.3,146.6L278.6,147.7L278.8,148.8L279.0,149.9L279.2,151.0L279.4,152.1L279.5,153.1L279.7,154.2L279.9,155.3L280.0,156.4L280.2,157.5L280.4,158.6L280.5,159.7L280.7,160.8L280.8,161.8L281.0,162.9L281.2,164.0L281.4,165.1L281.5,166.2L281.7,167.3L281.9,168.4L282.1,169.4L282.3,170.5L282.5,171.6L282.7,172.7L282.9,173.8L283.1,174.8L283.3,175.9L283.5,177.0L283.7,178.1L283.9,179.2L284.0,180.3L284.2,181.4L284.4,182.4L284.6,183.5L284.8,184.6L284.9,185.7L285.1,186.8L285.3,187.9L285.4,189.0L285.6,190.0L285.8,191.1L286.0,192.2L286.1,193.3L286.3,194.4L286.5,195.5L286.7,196.6L286.8,197.6L287.0,198.7L287.2,199.8L287.4,200.9L287.6,202.0L287.8,203.1L288.0,204.1L288.3,205.2L288.6,206.3L288.9,207.3L289.3,208.3L289.8,209.3L290.4,210.3L291.0,211.2L291.6,212.1L292.3,212.9L293.2,213.6L294.2,214.1L295.0,214.5" fill="none" stroke="#ff0000" stroke-width="2.1" stroke-linejoin="round" stroke-linecap="butt"/>
<path d="M22.3,140.2L23.4,140.5L24.4,140.7L25.5,141.0L26.6,141.2L27.7,141.5L28.7,141.7L29.8,142.0L30.9,142.2L32.0,142.4L33.1,142.4L34.2,142.5L35.3,142.4L36.3,142.3L37.4,142.2L38.5,142.0L39.6,141.8L40.7,141.6L41.8,141.3L42.8,141.1L43.9,140.9L45.0,140.9L46.1,140.9L47.2,141.0L48.3,141.2L49.4,141.4L50.4,141.8L51.4,142.2L52.5,142.5L53.5,142.8L54.6,142.9L55.7,142.9L56.8,142.8L57.9,142.6L59.0,142.3L60.0,142.1L61.1,141.8L62.2,141.5L63.3,141.5L64.4,141.6L65.4,141.8L66.5,142.1L67.6,142.4L68.6,142.7L69.7,143.0L70.7,143.3L71.8,143.5L72.9,143.8L74.0,144.0L75.1,144.1L76.1,143.9L77.1,143.4L78.0,142.7L78.7,141.9L79.2,140.9L79.7,139.9L80.2,138.9L80.5,137.9L80.9,136.8L81.2,135.8L81.5,134.7L81.8,133.7L82.1,132.6L82.3,131.5L82.6,130.5L82.9,129.4L83.2,128.3L83.4,127.3L83.7,126.2L84.0,125.1L84.2,124.1L84.5,123.0L84.8,122.0L85.1,120.9L85.4,119.8L85.6,118.8L85.9,117.7L86.2,116.6L86.5,115.6L86.7,114.5L87.0,113.4L87.3,112.4L87.5,111.3L87.8,110.2L88.1,109.2L88.3,108.1L88.6,107.0L88.8,106.0L89.1,104.9L89.4,103.8L89.7,102.8L90.0,101.7L90.3,100.6L90.6,99.6L91.0,98.6L91.4,97.5L91.8,96.5L92.3,95.5L92.9,94.6L93.9,94.2L94.8,94.8L95.4,95.7L95.9,96.7L96.3,97.7L96.6,98.7L96.9,99.8L97.2,100.9L97.4,101.9L97.6,103.0L97.9,104.1L98.1,105.2L98.2,106.3L98.4,107.3L98.6,108.4L98.8,109.5L99.0,110.6L99.1,111.7L99.3,112.8L99.4,113.9L99.6,115.0L99.7,116.0L99.9,117.1L100.0,118.2L100.2,119.3L100.3,120.4L100.4,121.5L100.6,122.6L100.7,123.7L100.8,124.8L100.9,125.9L101.1,127.0L101.2,128.1L101.3,129.1L101.4,130.2L101.5,131.3L101.6,132.4L101.8,133.5L101.9,134.6L102.0,135.7L102.1,136.8L102.2,137.9L102.3,139.0L102.5,140.1L102.6,141.2L102.7,142.3L102.8,143.4L102.9,144.5L103.1,145.6L103.2,146.6L103.3,147.7L103.4,148.8L103.6,149.9L103.7,151.0L103.8,152.1L103.9,153.2L104.1,154.3L104.2,155.4L104.3,156.5L104.4,157.6L104.6,158.7L104.7,159.8L104.8,160.9L104.9,161.9L105.1,163.0L105.2,164.1L105.4,165.2L105.5,166.3L105.6,167.4L105.8,168.5L105.9,169.6L106.1,170.7L106.3,171.8L106.4,172.8L106.6,173.9L106.8,175.0L107.0,176.1L107.2,177.2L107.3,178.3L107.5,179.3L107.7,180.4L107.9,181.5L108.1,182.6L108.3,183.7L108.5,184.8L108.7,185.8L108.9,186.9L109.1,188.0L109.3,189.1L109.5,190.2L109.7,191.3L109.9,192.3L110.1,193.4L110.3,194.5L110.5,195.6L110.7,196.7L110.8,197.8L111.0,198.8L111.2,199.9L111.4,201.0L111.6,202.1L111.8,203.2L112.1,204.2L112.3,205.3L112.5,206.4L112.7,207.5L113.0,208.5L113.2,209.6L113.4,210.7L113.7,211.8L114.0,212.8L114.2,213.9L114.5,215.0L114.8,216.0L115.2,217.1L115.5,218.1L115.9,219.1L116.3,220.2L116.7,221.2L117.2,222.2L117.6,223.2L118.1,224.2L118.6,225.2L119.0,226.2L119.5,227.1L120.0,228.1L120.5,229.1L121.0,230.1L121.5,231.1L122.0,232.1L122.5,233.1L122.9,234.1L123.4,235.1L123.9,236.1L124.3,237.1L124.8,238.0L125.3,239.0L125.7,240.0L126.2,241.0L126.6,242.0L127.1,243.0L127.6,244.0L128.1,245.0L128.7,245.9L129.5,246.7L130.6,246.7L131.5,246.1L132.2,245.3L133.0,244.5L133.7,243.7L134.4,242.9L135.2,242.0L135.9,241.2L136.7,240.4L137.4,239.6L138.1,238.7L138.8,237.9L139.5,237.1L140.2,236.2L140.9,235.4L141.6,234.5L142.3,233.7L143.0,232.8L143.6,231.9L144.2,231.0L144.8,230.1L145.4,229.1L145.9,228.1L146.4,227.2L146.9,226.2L147.3,225.2L147.7,224.1L148.0,223.1L148.4,222.0L148.6,221.0L148.9,219.9L149.2,218.8L149.4,217.8L149.7,216.7L149.9,215.6L150.1,214.5L150.2,213.4L150.4,212.3L150.6,211.3L150.7,210.2L150.8,209.1L151.0,208.0L151.2,206.9L151.4,205.8L151.6,204.7L151.8,203.7L152.0,202.6L152.3,201.5L152.6,200.5L152.8,199.4L153.1,198.3L153.4,197.3L153.6,196.2L153.9,195.1L154.1,194.0L154.4,193.0L154.6,191.9L154.8,190.8L155.0,189.7L155.2,188.7L155.4,187.6L155.6,186.5L155.7,185.4L155.9,184.3L156.1,183.2L156.2,182.1L156.4,181.0L156.5,179.9L156.6,178.9L156.8,177.8L157.0,176.7L157.1,175.6L157.3,174.5L157.4,173.4L157.6,172.3L157.8,171.2L158.0,170.2L158.2,169.1L158.4,168.0L158.6,166.9L158.8,165.8L159.0,164.7L159.2,163.7L159.4,162.6L159.6,161.5L159.8,160.4L160.0,159.3L160.2,158.3L160.5,157.2L160.7,156.1L160.9,155.0L161.1,154.0L161.3,152.9L161.6,151.8L161.8,150.7L162.0,149.6L162.2,148.6L162.5,147.5L162.7,146.4L162.9,145.3L163.2,144.3L163.4,143.2L163.6,142.1L163.9,141.1L164.1,140.0L164.4,138.9L164.6,137.8L164.9,136.8L165.2,135.7L165.4,134.6L165.7,133.6L165.9,132.5L166.2,131.4L166.5,130.4L166.7,129.3L167.0,128.2L167.3,127.2L167.5,126.1L167.8,125.0L168.0,123.9L168.2,122.9L168.5,121.8L168.7,120.7L168.9,119.6L169.1,118.6L169.3,117.5L169.6,116.4L169.8,115.3L170.0,114.2L170.2,113.2L170.5,112.1L170.7,111.0L171.0,110.0L171.3,108.9L171.6,107.8L171.9,106.8L172.2,105.7L172.5,104.7L172.8,103.6L173.1,102.6L173.5,101.5L173.8,100.5L174.1,99.4L174.5,98.4L174.8,97.3L175.2,96.3L175.6,95.3L175.9,94.2L176.3,93.2L176.7,92.1L177.0,91.1L177.4,90.1L177.8,89.0L178.2,88.0L178.6,87.0L179.0,86.0L179.4,85.0L179.9,84.0L180.4,83.0L180.9,82.0L181.4,81.0L182.0,80.1L182.6,79.2L183.3,78.3L184.0,77.5L184.7,76.6L185.5,75.9L186.3,75.1L187.2,74.5L188.2,74.0L189.2,73.7L190.3,73.7L191.4,74.0L192.3,74.6L193.2,75.3L194.0,76.1L194.7,76.9L195.4,77.7L196.1,78.6L196.8,79.4L197.5,80.3L198.2,81.1L198.9,82.0L199.5,82.9L200.2,83.8L200.8,84.7L201.4,85.6L202.1,86.5L202.7,87.4L203.3,88.3L204.0,89.2L204.6,90.1L205.3,90.9L205.9,91.8L206.6,92.7L207.3,93.6L208.0,94.4L208.7,95.3L209.4,96.1L210.0,97.0L210.7,97.8L211.4,98.7L212.1,99.6L212.7,100.5L213.3,101.4L214.0,102.3L214.6,103.2L215.2,104.1L215.8,105.0L216.4,105.9L217.0,106.9L217.6,107.8L218.1,108.8L218.7,109.7L219.2,110.7L219.7,111.7L220.2,112.6L220.7,113.6L221.2,114.6L221.6,115.6L222.1,116.6L222.6,117.6L223.0,118.6L223.5,119.6L224.0,120.6L224.4,121.6L224.8,122.6L225.2,123.6L225.6,124.7L226.0,125.7L226.4,126.7L226.8,127.8L227.1,128.8L227.5,129.8L227.9,130.9L228.2,131.9L228.6,132.9L229.0,134.0L229.3,135.0L229.7,136.1L230.0,137.1L230.4,138.1L230.7,139.2L231.1,140.2L231.5,141.3L231.8,142.3L232.2,143.3L232.5,144.4L232.9,145.4L233.3,146.5L233.6,147.5L234.0,148.5L234.3,149.6L234.7,150.6L235.0,151.7L235.4,152.7L235.7,153.8L236.1,154.8L236.4,155.8L236.8,156.9L237.2,157.9L237.6,158.9L238.0,159.9L238.5,160.9L239.1,161.9L239.7,162.8L240.4,163.7L241.0,164.6L241.6,165.5L242.2,166.4L242.8,167.3L243.3,168.3L243.8,169.3L244.4,170.2L244.9,171.2L245.4,172.1L246.0,173.1L246.5,174.1L247.0,175.0L247.6,176.0L248.1,177.0L248.6,177.9L249.1,178.9L249.7,179.9L250.2,180.8L250.7,181.8L251.3,182.7L251.8,183.7L252.4,184.6L253.0,185.6L253.6,186.5L254.2,187.4L254.8,188.3L255.4,189.2L256.1,190.1L256.8,191.0L257.5,191.8L258.2,192.6L259.1,193.2L260.2,193.6L261.2,193.4L262.1,192.7L262.8,191.8L263.3,190.9L263.8,189.9L264.2,188.9L264.6,187.8L265.1,186.8L265.5,185.8L265.9,184.8L266.4,183.8L266.8,182.8L267.2,181.8L267.7,180.8L268.1,179.8L268.5,178.7L269.0,177.7L269.4,176.7L269.9,175.7L270.4,174.7L270.9,173.8L271.5,172.8L272.1,171.9L272.8,171.1L273.8,170.6L274.8,170.8L275.6,171.5L276.2,172.5L276.6,173.5L277.0,174.5L277.3,175.6L277.6,176.7L277.8,177.7L278.0,178.8L278.3,179.9L278.5,181.0L278.7,182.0L278.9,183.1L279.1,184.2L279.3,185.3L279.5,186.4L279.7,187.5L279.8,188.5L280.0,189.6L280.2,190.7L280.4,191.8L280.6,192.9L280.8,194.0L281.0,195.0L281.2,196.1L281.4,197.2L281.6,198.3L281.8,199.4L282.0,200.4L282.2,201.5L282.4,202.6L282.6,203.7L282.8,204.8L283.0,205.8L283.2,206.9L283.5,208.0L283.7,209.1L283.9,210.2L284.1,211.2L284.4,212.3L284.6,213.4L284.8,214.5L285.1,215.5L285.3,216.6L285.5,217.7L285.8,218.8L286.0,219.8L286.3,220.9L286.5,222.0L286.8,223.0L287.1,224.1L287.4,225.2L287.7,226.2L288.0,227.3L288.3,228.3L288.7,229.4L289.1,230.4L289.5,231.4L290.0,232.4L290.5,233.3L291.1,234.2L291.9,235.0L292.8,235.7L293.8,236.2L294.8,236.5L295.0,236.6" fill="none" stroke="#ff0000" stroke-width="3.3" stroke-linejoin="round" stroke-linecap="butt"/>
<path d="M326.0,139.0L327.0,139.3L328.1,139.7L329.1,140.0L330.2,140.4L331.2,140.7L332.2,141.1L333.3,141.5L334.3,141.9L335.3,142.3L336.4,142.6L337.5,142.8L338.6,142.8L339.6,142.5L340.7,142.2L341.7,141.8L342.7,141.4L343.8,141.2L344.9,141.2L346.0,141.3L347.1,141.5L348.2,141.7L349.3,141.8L350.4,141.8L351.4,141.5L352.5,141.1L353.5,140.7L354.5,140.4L355.6,140.2L356.7,140.3L357.8,140.6L358.8,141.1L359.7,141.6L360.7,142.2L361.6,142.8L362.5,143.3L363.5,143.9L364.4,144.5L365.4,145.0L366.4,145.5L367.5,145.7L368.6,145.7L369.6,145.5L370.6,145.1L371.6,144.5L372.5,143.9L373.5,143.4L374.4,142.8L375.3,142.2L376.3,141.6L377.2,141.0L378.1,140.4L379.0,139.7L379.9,139.1L380.7,138.4L381.5,137.6L382.3,136.9L383.1,136.1L383.8,135.3L384.6,134.5L385.3,133.6L385.9,132.7L386.6,131.9L387.2,131.0L387.8,130.1L388.5,129.1L389.1,128.2L389.8,127.4L390.4,126.5L391.1,125.6L391.8,124.8L392.6,124.0L393.4,123.2L394.2,122.6L395.3,122.3L396.4,122.4L397.3,123.0L398.1,123.8L398.7,124.7L399.2,125.7L399.7,126.7L400.0,127.7L400.4,128.7L400.7,129.8L401.1,130.8L401.4,131.9L401.7,132.9L402.0,134.0L402.3,135.1L402.6,136.1L402.9,137.2L403.2,138.2L403.5,139.3L403.8,140.4L404.1,141.4L404.4,142.5L404.7,143.5L405.0,144.6L405.3,145.6L405.6,146.7L405.9,147.8L406.3,148.8L406.6,149.8L406.9,150.9L407.3,151.9L407.6,153.0L408.0,154.0L408.3,155.1L408.7,156.1L409.2,157.1L409.6,158.1L410.1,159.1L410.7,160.0L411.3,160.9L412.0,161.8L412.9,162.4L414.0,162.5L415.0,162.0L415.8,161.3L416.4,160.4L417.0,159.5L417.6,158.6L418.3,157.7L418.9,156.8L419.6,155.9L420.3,155.0L421.0,154.2L421.7,153.4L422.5,152.6L423.3,151.8L424.1,151.1L425.1,150.6L426.1,150.2L427.2,150.2L428.3,150.4L429.3,150.8L430.3,151.3L431.2,151.9L432.1,152.5L433.0,153.2L433.8,153.9L434.7,154.6L435.5,155.3L436.4,155.9L437.4,156.5L438.4,157.0L439.4,157.3L440.5,157.4L441.6,157.5L442.7,157.5L443.8,157.4L444.9,157.3L446.0,157.2L447.1,157.1L448.2,157.1L449.3,157.3L450.4,157.5L451.4,157.8L452.5,158.2L453.5,158.5L454.6,158.7L455.7,158.8L456.8,158.6L457.8,158.2L458.8,157.7L459.7,157.2L460.6,156.6L461.5,155.9L462.4,155.3L463.3,154.6L464.1,153.8L464.9,153.1L465.6,152.2L466.3,151.4L467.0,150.6L467.8,149.8L468.6,149.0L469.4,148.2L470.2,147.5L471.0,146.8L471.9,146.1L472.7,145.4L473.6,144.7L474.5,144.1L475.4,143.4L476.3,142.9L477.3,142.3L478.2,141.8L479.2,141.3L480.3,140.9L481.3,140.5L482.3,140.2L483.4,139.8L484.4,139.5L485.5,139.2L486.5,138.9L487.6,138.6L488.7,138.3L489.7,138.0L490.8,137.8L491.9,137.5L492.9,137.3L494.0,137.0L495.1,136.7L496.1,136.5L497.2,136.2L498.3,135.9L499.3,135.7L500.4,135.4L501.5,135.1L502.5,134.8L503.6,134.6L504.7,134.4L505.8,134.2L506.8,134.0L507.9,133.8L509.0,133.6L510.1,133.5L511.2,133.4L512.3,133.3L513.4,133.2L514.5,133.2L515.6,133.2L516.7,133.3L517.8,133.5L518.8,133.8L519.9,134.0L521.0,134.3L522.1,134.5L523.1,134.7L524.2,134.9L525.3,135.1L526.4,135.3L527.5,135.4L528.6,135.5L529.7,135.4L530.8,135.4L531.9,135.2L533.0,135.1L534.1,135.0L535.1,134.8L536.2,134.7L537.3,134.5L538.4,134.4L539.5,134.3L540.6,134.2L541.7,134.1L542.8,134.1L543.9,134.2L545.0,134.4L546.0,134.7L547.1,135.1L548.1,135.6L549.0,136.1L550.1,136.5L551.2,136.4L552.2,136.0L553.0,135.3L553.8,134.5L554.6,133.8L555.5,133.1L556.3,132.3L557.1,131.6L558.0,130.9L558.8,130.2L559.6,129.5L560.5,128.8L561.3,128.1L562.2,127.4L563.1,126.7L563.9,126.0L564.8,125.4L565.6,124.6L566.5,123.9L567.3,123.2L568.0,122.4L568.8,121.6L569.5,120.7L570.1,119.9L570.8,119.0L571.5,118.1L572.2,117.3L572.9,116.4L573.6,115.6L574.4,114.8L575.2,114.0L576.0,113.3L576.9,112.6L577.8,112.1L578.9,111.9L580.0,112.1L580.8,112.8L581.5,113.7L582.0,114.7L582.5,115.7L582.9,116.7L583.3,117.7L583.6,118.8L583.9,119.8L584.2,120.9L584.5,121.9L584.7,123.0L585.0,124.1L585.2,125.2L585.4,126.2L585.7,127.3L585.9,128.4L586.2,129.4L586.4,130.5L586.7,131.6L586.9,132.7L587.2,133.7L587.5,134.8L587.7,135.9L588.0,136.9L588.2,138.0L588.5,139.1L588.8,140.1L589.1,141.2L589.3,142.3L589.6,143.3L589.9,144.4L590.2,145.4L590.5,146.5L590.8,147.6L591.2,148.6L591.6,149.6L592.0,150.6L592.5,151.6L593.0,152.6L593.6,153.5L594.2,154.4L594.9,155.3L595.6,156.2L596.3,157.0L597.1,157.7L597.9,158.5L598.5,159.0" fill="none" stroke="#000000" stroke-width="1.0" stroke-linejoin="round" stroke-linecap="butt"/>
<path d="M326.0,144.0L327.1,144.2L328.2,144.4L329.2,144.6L330.3,144.8L331.4,144.9L332.5,145.0L333.6,145.1L334.7,145.1L335.8,145.1L336.9,145.1L338.0,145.1L339.1,145.0L340.2,145.0L341.3,144.9L342.4,144.8L343.5,144.6L344.6,144.5L345.7,144.3L346.8,144.2L347.9,144.0L348.9,143.8L350.0,143.7L351.1,143.5L352.2,143.3L353.3,143.2L354.4,143.1L355.5,143.1L356.6,143.2L357.7,143.4L358.7,143.7L359.8,144.0L360.8,144.3L361.9,144.6L363.0,144.8L364.1,144.9L365.2,144.8L366.2,144.7L367.3,144.4L368.4,144.1L369.4,143.8L370.5,143.5L371.5,143.2L372.6,142.9L373.7,142.7L374.8,142.6L375.9,142.4L376.9,142.2L378.0,141.9L379.0,141.5L380.0,140.9L380.8,140.3L381.7,139.5L382.5,138.8L383.2,138.0L383.9,137.1L384.7,136.3L385.4,135.4L386.0,134.6L386.7,133.7L387.4,132.8L388.0,131.9L388.6,131.0L389.2,130.1L389.7,129.1L390.3,128.2L390.8,127.2L391.3,126.2L391.9,125.3L392.5,124.4L393.2,123.5L393.9,122.7L394.7,122.0L395.7,121.5L396.8,121.7L397.7,122.3L398.4,123.1L399.0,124.1L399.6,125.0L400.1,126.0L400.6,126.9L401.1,127.9L401.5,128.9L402.0,129.9L402.4,131.0L402.8,132.0L403.3,133.0L403.7,134.0L404.1,135.0L404.5,136.0L405.0,137.0L405.4,138.1L405.8,139.1L406.2,140.1L406.7,141.1L407.1,142.1L407.6,143.1L408.0,144.1L408.5,145.1L409.0,146.1L409.4,147.1L409.9,148.1L410.3,149.1L410.8,150.1L411.3,151.1L411.8,152.0L412.4,153.0L413.1,153.8L413.9,154.5L415.0,154.7L416.0,154.2L416.8,153.5L417.5,152.7L418.3,151.8L419.0,151.1L419.8,150.3L420.7,149.6L421.5,148.9L422.4,148.2L423.3,147.6L424.2,146.9L425.1,146.3L426.0,145.7L426.9,145.1L427.9,144.6L428.8,144.0L429.8,143.4L430.7,142.8L431.6,142.2L432.5,141.6L433.4,141.0L434.3,140.3L435.2,139.7L436.1,139.0L436.9,138.3L437.8,137.6L438.6,136.9L439.5,136.2L440.4,135.6L441.5,135.5L442.5,135.9L443.4,136.5L444.3,137.2L445.1,137.9L446.0,138.6L446.9,139.2L447.8,139.8L448.7,140.4L449.6,141.0L450.6,141.6L451.5,142.2L452.5,142.7L453.5,143.2L454.5,143.6L455.6,143.8L456.7,143.9L457.8,143.9L458.9,143.8L459.9,143.6L461.0,143.3L462.1,143.1L463.1,142.8L464.2,142.5L465.3,142.2L466.3,141.9L467.4,141.6L468.4,141.3L469.5,141.0L470.6,140.7L471.6,140.4L472.7,140.1L473.7,139.9L474.8,139.7L475.9,139.6L477.0,139.6L478.1,139.8L479.2,140.0L480.2,140.3L481.3,140.6L482.4,140.8L483.5,140.9L484.6,140.9L485.7,140.8L486.8,140.6L487.9,140.4L488.9,140.2L490.0,139.9L491.1,139.7L492.1,139.4L493.2,139.2L494.3,138.9L495.4,138.7L496.4,138.4L497.5,138.2L498.6,137.9L499.6,137.7L500.7,137.5L501.8,137.3L502.9,137.1L504.0,137.1L505.1,137.0L506.2,137.1L507.3,137.2L508.4,137.4L509.4,137.6L510.5,137.9L511.5,138.4L512.5,138.9L513.4,139.5L514.3,140.2L515.1,140.9L515.8,141.7L516.6,142.5L517.3,143.3L518.1,144.1L518.8,144.9L519.5,145.8L520.2,146.6L520.9,147.5L521.5,148.4L522.2,149.3L522.8,150.2L523.4,151.1L524.0,152.0L524.6,153.0L525.2,153.9L525.9,154.7L526.6,155.6L527.4,156.4L528.2,157.0L529.2,157.5L530.3,157.6L531.3,157.3L532.3,156.7L533.1,155.9L533.8,155.1L534.5,154.3L535.2,153.4L535.8,152.5L536.3,151.5L536.9,150.6L537.5,149.7L538.1,148.8L538.8,147.9L539.4,147.0L540.1,146.1L540.8,145.2L541.5,144.4L542.3,143.6L543.0,142.8L543.8,142.1L544.6,141.3L545.4,140.6L546.3,139.9L547.1,139.2L548.0,138.5L549.0,138.0L549.9,137.5L551.0,137.1L552.0,136.7L553.1,136.5L554.2,136.3L555.3,136.3L556.4,136.2L557.5,136.3L558.6,136.3L559.7,136.2L560.8,136.2L561.9,136.0L562.9,135.7L563.9,135.2L564.8,134.6L565.7,133.9L566.4,133.1L567.1,132.3L567.8,131.4L568.5,130.5L569.1,129.6L569.7,128.7L570.4,127.8L571.1,127.0L571.8,126.1L572.5,125.3L573.2,124.5L574.0,123.7L574.8,122.9L575.6,122.2L576.4,121.5L577.3,120.8L578.3,120.4L579.4,120.3L580.4,120.7L581.2,121.5L581.8,122.4L582.3,123.3L582.8,124.4L583.1,125.4L583.5,126.4L583.8,127.5L584.2,128.5L584.5,129.6L584.9,130.6L585.2,131.6L585.6,132.7L585.9,133.8L586.2,134.8L586.4,135.9L586.7,136.9L587.0,138.0L587.3,139.1L587.5,140.1L587.8,141.2L588.1,142.3L588.3,143.3L588.6,144.4L588.9,145.5L589.1,146.5L589.4,147.6L589.6,148.7L589.9,149.7L590.2,150.8L590.4,151.9L590.7,153.0L591.0,154.0L591.3,155.1L591.6,156.1L591.9,157.2L592.2,158.2L592.6,159.3L593.0,160.3L593.5,161.3L593.9,162.3L594.4,163.3L594.8,164.3L595.3,165.3L595.9,166.2L596.5,167.1L597.3,167.9L598.1,168.7L598.5,169.0" fill="none" stroke="#000000" stroke-width="2.1" stroke-linejoin="round" stroke-linecap="butt"/>
<path d="M326.0,135.0L327.0,135.4L328.0,135.8L329.1,136.2L330.1,136.6L331.1,137.0L332.1,137.4L333.2,137.8L334.2,138.2L335.2,138.7L336.2,139.1L337.2,139.6L338.2,140.1L339.2,140.6L340.1,141.1L341.1,141.6L342.0,142.2L343.0,142.8L343.9,143.3L345.0,143.6L346.1,143.6L347.1,143.3L348.0,142.7L348.9,142.0L349.7,141.2L350.5,140.5L351.3,139.7L352.1,139.0L353.0,138.3L353.9,137.7L354.9,137.4L356.0,137.4L357.1,137.6L358.1,138.0L359.1,138.4L360.2,138.7L361.3,138.9L362.4,138.9L363.5,138.8L364.6,138.7L365.7,138.6L366.8,138.4L367.9,138.3L368.9,138.1L370.0,138.0L371.1,137.9L372.2,137.8L373.3,137.7L374.4,137.6L375.5,137.4L376.6,137.1L377.6,136.8L378.7,136.5L379.7,136.1L380.7,135.5L381.6,134.9L382.5,134.3L383.3,133.6L384.1,132.9L385.0,132.1L385.8,131.4L386.5,130.6L387.3,129.8L388.0,128.9L388.6,128.1L389.3,127.1L389.9,126.2L390.4,125.3L391.1,124.4L391.7,123.5L392.3,122.6L393.0,121.7L393.7,120.9L394.5,120.1L395.4,119.6L396.5,119.5L397.5,120.0L398.3,120.7L399.0,121.6L399.6,122.5L400.2,123.4L400.7,124.4L401.2,125.4L401.6,126.4L402.1,127.4L402.5,128.4L402.9,129.4L403.3,130.5L403.8,131.5L404.2,132.5L404.7,133.5L405.1,134.5L405.6,135.5L406.1,136.4L406.6,137.4L407.1,138.4L407.6,139.4L408.2,140.3L408.8,141.2L409.4,142.1L410.1,143.0L411.0,143.7L412.0,144.0L413.1,143.8L414.0,143.2L414.8,142.4L415.5,141.6L416.2,140.7L416.8,139.9L417.5,139.0L418.1,138.1L418.7,137.1L419.3,136.2L419.8,135.3L420.4,134.3L420.9,133.4L421.5,132.4L422.0,131.4L422.6,130.5L423.1,129.5L423.7,128.6L424.2,127.6L424.8,126.7L425.4,125.8L426.1,124.9L426.7,124.0L427.5,123.2L428.3,122.4L429.1,121.8L430.1,121.2L431.0,120.6L431.9,119.9L432.6,119.2L433.3,118.3L434.0,117.4L434.6,116.5L435.3,115.6L436.0,114.8L436.6,113.9L437.3,113.0L438.0,112.2L438.7,111.4L439.5,110.5L440.2,109.8L441.1,109.1L442.0,108.5L443.1,108.2L444.2,108.4L445.1,108.9L445.9,109.7L446.5,110.6L447.1,111.5L447.7,112.5L448.2,113.4L448.7,114.4L449.2,115.4L449.7,116.4L450.3,117.3L450.9,118.2L451.6,119.1L452.3,119.9L453.0,120.8L453.7,121.6L454.4,122.5L455.1,123.3L455.7,124.2L456.4,125.1L457.1,125.9L457.8,126.8L458.6,127.6L459.3,128.4L460.1,129.2L460.9,129.9L461.7,130.7L462.6,131.3L463.5,132.0L464.4,132.5L465.3,133.1L466.3,133.7L467.2,134.4L468.0,135.0L468.9,135.7L469.8,136.4L470.7,137.0L471.5,137.7L472.5,138.2L473.6,138.4L474.7,138.2L475.6,137.7L476.4,136.9L477.2,136.1L477.9,135.3L478.5,134.4L479.1,133.4L479.7,132.5L480.3,131.6L480.9,130.7L481.6,129.8L482.3,129.0L483.0,128.1L483.7,127.3L484.4,126.5L485.2,125.7L486.1,125.0L486.9,124.3L487.8,123.7L488.8,123.2L489.8,122.7L490.8,122.3L491.9,121.9L492.9,121.7L494.0,121.6L495.1,121.7L496.2,122.0L497.2,122.4L498.2,122.9L499.1,123.5L500.0,124.1L500.9,124.7L501.8,125.4L502.7,126.1L503.6,126.6L504.6,127.0L505.7,127.3L506.8,127.4L507.9,127.6L509.0,127.8L510.0,128.2L510.9,128.8L511.8,129.5L512.5,130.3L513.2,131.1L513.9,131.9L514.6,132.8L515.2,133.7L515.9,134.6L516.5,135.5L517.2,136.4L517.9,137.2L518.6,138.0L519.5,138.8L520.3,139.4L521.3,140.0L522.2,140.6L523.2,141.0L524.3,141.3L525.4,141.3L526.4,140.9L527.3,140.3L528.1,139.5L528.8,138.7L529.5,137.8L530.2,137.0L530.8,136.1L531.4,135.2L532.1,134.3L532.8,133.4L533.5,132.6L534.3,131.9L535.2,131.2L536.2,130.7L537.2,130.2L538.2,129.8L539.2,129.4L540.3,129.1L541.3,128.8L542.4,128.5L543.4,128.1L544.5,127.8L545.5,127.3L546.5,126.8L547.4,126.3L548.4,125.8L549.3,125.2L550.3,124.6L551.2,124.0L552.2,123.5L553.2,123.2L554.3,123.1L555.4,123.2L556.5,123.4L557.5,123.8L558.5,124.2L559.5,124.6L560.6,124.8L561.7,124.8L562.8,124.5L563.8,124.2L564.8,123.7L565.7,123.0L566.5,122.2L567.1,121.3L567.7,120.4L568.2,119.4L568.7,118.5L569.3,117.5L569.8,116.5L570.3,115.6L570.8,114.6L571.2,113.6L571.7,112.6L572.2,111.6L572.6,110.6L573.0,109.5L573.4,108.5L573.8,107.5L574.3,106.5L574.7,105.5L575.2,104.5L575.8,103.6L576.3,102.6L576.9,101.7L577.6,100.9L578.4,100.1L579.4,99.6L580.5,99.6L581.4,100.3L582.0,101.2L582.5,102.1L583.0,103.1L583.4,104.2L583.7,105.2L584.0,106.3L584.3,107.3L584.6,108.4L584.8,109.5L585.1,110.5L585.3,111.6L585.5,112.7L585.8,113.8L586.0,114.8L586.2,115.9L586.4,117.0L586.6,118.1L586.8,119.2L587.0,120.3L587.1,121.3L587.3,122.4L587.5,123.5L587.7,124.6L587.9,125.7L588.2,126.7L588.4,127.8L588.6,128.9L588.8,130.0L589.1,131.1L589.3,132.1L589.6,133.2L589.8,134.3L590.1,135.3L590.3,136.4L590.6,137.5L590.9,138.5L591.2,139.6L591.5,140.6L591.9,141.7L592.3,142.7L592.8,143.7L593.3,144.7L593.8,145.6L594.4,146.6L595.0,147.5L595.7,148.3L596.5,149.1L597.3,149.9L598.1,150.6L598.5,151.0" fill="none" stroke="#000000" stroke-width="3.3" stroke-linejoin="round" stroke-linecap="butt"/>
<path d="M326.0,137.0L326.8,137.8L327.6,138.5L328.4,139.3L329.1,140.1L329.9,140.9L330.7,141.7L331.4,142.5L332.1,143.3L332.8,144.2L333.5,145.0L334.2,145.9L334.9,146.7L335.6,147.6L336.3,148.4L337.1,149.2L337.8,150.0L338.6,150.8L339.5,151.4L340.5,151.8L341.6,151.8L342.7,151.5L343.7,151.1L344.6,150.5L345.5,149.9L346.4,149.3L347.3,148.6L348.1,147.9L349.0,147.2L349.9,146.6L350.8,145.9L351.7,145.3L352.6,144.7L353.6,144.2L354.6,143.7L355.5,143.2L356.5,142.6L357.3,141.9L358.2,141.2L359.0,140.5L359.8,139.8L360.9,139.4L361.8,139.9L362.4,140.8L362.9,141.8L363.3,142.9L363.7,143.9L364.3,144.8L365.2,145.5L366.2,145.4L367.2,144.8L368.0,144.1L368.8,143.3L369.6,142.5L370.4,141.8L371.2,141.1L372.0,140.3L372.9,139.6L373.7,138.9L374.6,138.2L375.4,137.5L376.3,136.8L377.1,136.2L378.0,135.5L378.9,134.9L379.8,134.3L380.8,133.7L381.7,133.0L382.5,132.4L383.3,131.6L384.1,130.8L384.7,129.9L385.3,128.9L385.8,128.0L386.3,127.0L386.9,126.1L387.4,125.1L387.9,124.1L388.5,123.2L389.0,122.2L389.5,121.2L390.0,120.3L390.6,119.3L391.2,118.4L391.8,117.5L392.5,116.6L393.2,115.8L394.1,115.1L395.0,114.6L396.1,114.3L397.2,114.5L398.0,115.2L398.8,116.0L399.4,116.9L399.9,117.9L400.3,118.9L400.7,119.9L401.1,120.9L401.5,122.0L401.8,123.0L402.1,124.1L402.4,125.1L402.8,126.2L403.1,127.2L403.4,128.3L403.7,129.4L404.0,130.4L404.2,131.5L404.5,132.5L404.8,133.6L405.1,134.7L405.4,135.7L405.7,136.8L406.0,137.9L406.2,138.9L406.5,140.0L406.8,141.0L407.1,142.1L407.4,143.2L407.7,144.2L408.0,145.3L408.3,146.3L408.6,147.4L408.9,148.5L409.2,149.5L409.5,150.6L409.9,151.6L410.2,152.6L410.6,153.7L411.0,154.7L411.3,155.7L411.7,156.8L412.1,157.8L412.5,158.8L413.0,159.8L413.4,160.8L413.9,161.8L414.4,162.8L415.0,163.7L415.7,164.6L416.6,165.2L417.6,165.7L418.6,165.9L419.7,166.2L420.8,166.4L421.9,166.7L422.9,167.1L423.9,167.6L424.8,168.1L425.8,168.7L426.7,169.3L427.6,169.9L428.6,170.4L429.7,170.6L430.7,170.3L431.6,169.6L432.3,168.8L433.0,167.9L433.6,167.0L434.2,166.1L434.7,165.1L435.3,164.2L435.9,163.2L436.5,162.3L437.1,161.4L437.8,160.5L438.5,159.7L439.2,158.9L440.1,158.2L441.0,157.6L442.0,157.3L443.1,157.2L444.2,157.4L445.2,157.7L446.3,158.2L447.3,158.5L448.4,158.6L449.4,158.2L450.3,157.5L451.1,156.8L451.8,156.0L452.5,155.1L453.2,154.2L453.8,153.3L454.4,152.4L454.9,151.4L455.5,150.5L456.0,149.5L456.5,148.5L457.0,147.5L457.4,146.5L457.8,145.5L458.3,144.5L458.7,143.5L459.1,142.4L459.5,141.4L459.9,140.4L460.2,139.4L460.6,138.3L461.0,137.3L461.4,136.3L461.8,135.3L462.2,134.2L462.6,133.2L462.9,132.1L463.3,131.1L463.6,130.1L463.9,129.0L464.2,127.9L464.5,126.9L464.8,125.8L465.2,124.8L465.5,123.7L465.8,122.7L466.1,121.6L466.5,120.6L466.8,119.5L467.1,118.5L467.5,117.4L467.8,116.4L468.1,115.3L468.5,114.3L468.8,113.3L469.2,112.2L469.6,111.2L470.0,110.1L470.4,109.1L470.8,108.1L471.2,107.1L471.6,106.1L472.1,105.1L472.5,104.1L473.0,103.1L473.5,102.1L474.0,101.1L474.5,100.1L475.0,99.2L475.6,98.2L476.2,97.3L476.8,96.4L477.4,95.4L478.0,94.5L478.6,93.6L479.3,92.8L479.9,91.9L480.6,91.0L481.4,90.2L482.1,89.4L483.0,88.7L483.8,88.0L484.7,87.4L485.7,86.8L486.7,86.4L487.7,86.1L488.8,86.1L489.9,86.3L491.0,86.6L492.0,87.0L493.0,87.5L493.9,88.1L494.8,88.7L495.7,89.3L496.6,90.0L497.5,90.6L498.4,91.3L499.3,91.9L500.2,92.6L501.1,93.2L501.9,94.0L502.7,94.7L503.4,95.5L504.2,96.3L504.9,97.2L505.6,98.0L506.3,98.9L507.0,99.7L507.6,100.6L508.3,101.5L508.9,102.4L509.5,103.3L510.1,104.2L510.7,105.2L511.3,106.1L511.8,107.1L512.4,108.0L512.9,109.0L513.4,109.9L513.9,110.9L514.4,111.9L514.9,112.9L515.3,113.9L515.7,115.0L516.1,116.0L516.6,117.0L517.0,118.0L517.5,119.0L518.0,120.0L518.5,120.9L519.0,121.9L519.6,122.8L520.3,123.7L521.0,124.6L521.7,125.4L522.5,126.1L523.3,126.9L524.1,127.6L525.0,128.3L525.8,129.0L526.7,129.7L527.5,130.5L528.2,131.3L529.0,132.1L529.7,132.9L530.3,133.8L530.9,134.8L531.5,135.7L532.0,136.6L532.6,137.6L533.3,138.5L534.0,139.3L534.7,140.1L535.5,140.8L536.4,141.5L537.3,142.2L538.2,142.8L539.1,143.5L539.9,144.2L540.7,144.9L541.5,145.7L542.4,146.4L543.2,147.2L543.9,147.9L544.7,148.7L545.5,149.5L546.3,150.3L547.0,151.0L547.8,151.8L548.6,152.6L549.4,153.4L550.1,154.2L550.9,155.0L551.7,155.7L552.5,156.5L553.3,157.3L554.1,158.0L554.9,158.8L555.7,159.5L556.5,160.2L557.4,160.9L558.2,161.6L559.1,162.3L560.0,163.0L560.9,163.6L561.8,164.2L562.7,164.8L563.7,165.3L564.7,165.6L565.8,165.9L566.9,165.9L568.0,165.7L569.0,165.3L569.8,164.6L570.6,163.8L571.4,163.0L572.1,162.2L572.8,161.4L573.5,160.5L574.3,159.7L575.1,159.0L575.9,158.2L576.9,157.7L577.9,157.5L578.9,157.9L579.7,158.7L580.3,159.6L580.8,160.6L581.2,161.6L581.6,162.6L581.9,163.7L582.2,164.7L582.6,165.8L582.9,166.8L583.1,167.9L583.4,169.0L583.7,170.0L584.0,171.1L584.3,172.1L584.6,173.2L584.9,174.3L585.2,175.3L585.5,176.4L585.8,177.4L586.0,178.5L586.3,179.6L586.6,180.6L586.9,181.7L587.2,182.8L587.5,183.8L587.8,184.9L588.1,185.9L588.4,187.0L588.7,188.0L589.0,189.1L589.4,190.1L589.7,191.2L590.1,192.2L590.6,193.2L591.1,194.2L591.7,195.1L592.3,196.0L593.0,196.9L593.8,197.6L594.7,198.2L595.7,198.8L596.7,199.2L597.7,199.5L598.5,199.7" fill="none" stroke="#ff0000" stroke-width="1.0" stroke-linejoin="round" stroke-linecap="butt"/>
<path d="M326.0,136.0L326.8,136.8L327.6,137.6L328.3,138.3L329.1,139.1L329.9,139.9L330.7,140.7L331.4,141.5L332.2,142.2L333.0,143.0L333.7,143.8L334.5,144.6L335.3,145.4L336.2,146.1L337.0,146.7L337.9,147.3L338.9,147.9L339.9,148.4L340.9,148.9L341.9,149.3L342.9,149.6L344.0,149.8L345.1,149.9L346.2,149.7L347.2,149.3L348.1,148.7L348.9,148.0L349.8,147.2L350.6,146.5L351.3,145.7L352.1,144.9L352.9,144.1L353.7,143.4L354.5,142.6L355.4,142.0L356.3,141.3L357.1,140.6L358.0,139.9L358.8,139.2L359.6,138.4L360.4,137.6L361.1,136.9L361.9,136.1L362.8,135.4L363.6,134.7L364.5,134.0L365.4,133.4L366.4,132.9L367.4,132.5L368.5,132.3L369.6,132.1L370.7,132.1L371.8,132.3L372.8,132.6L373.8,133.0L374.8,133.6L375.7,134.2L376.5,134.9L377.4,135.5L378.4,136.1L379.4,136.6L380.4,136.7L381.5,136.3L382.3,135.6L382.9,134.7L383.5,133.8L384.1,132.8L384.6,131.9L385.1,130.9L385.6,129.9L386.1,128.9L386.6,127.9L387.1,126.9L387.6,125.9L388.0,124.9L388.5,123.9L388.9,122.9L389.3,121.9L389.8,120.9L390.2,119.9L390.7,118.9L391.1,117.9L391.6,116.9L392.1,115.9L392.7,115.0L393.3,114.1L393.9,113.2L394.7,112.4L395.6,111.7L396.6,111.4L397.6,111.8L398.4,112.5L399.1,113.4L399.6,114.4L400.1,115.4L400.5,116.4L400.9,117.4L401.3,118.4L401.6,119.5L402.0,120.5L402.3,121.6L402.6,122.6L402.9,123.7L403.2,124.8L403.5,125.8L403.8,126.9L404.0,128.0L404.3,129.0L404.5,130.1L404.8,131.2L405.1,132.2L405.3,133.3L405.6,134.4L405.9,135.4L406.1,136.5L406.4,137.6L406.7,138.6L406.9,139.7L407.2,140.8L407.5,141.8L407.7,142.9L408.0,144.0L408.3,145.0L408.6,146.1L408.9,147.2L409.2,148.2L409.5,149.3L409.8,150.3L410.1,151.4L410.5,152.4L410.8,153.5L411.2,154.5L411.5,155.5L411.9,156.6L412.3,157.6L412.7,158.6L413.1,159.7L413.5,160.7L413.9,161.7L414.4,162.7L414.9,163.7L415.4,164.6L416.0,165.5L416.7,166.4L417.5,167.2L418.3,168.0L419.1,168.7L419.9,169.4L420.7,170.2L421.6,170.9L422.4,171.6L423.2,172.3L424.0,173.1L424.8,173.8L425.6,174.6L426.3,175.4L427.1,176.2L428.0,176.9L428.9,177.6L429.8,178.1L430.8,178.5L431.9,178.6L432.9,178.2L433.8,177.5L434.5,176.7L435.2,175.8L435.8,174.9L436.5,174.0L437.1,173.2L437.8,172.3L438.5,171.4L439.1,170.5L439.8,169.7L440.5,168.8L441.2,168.0L441.9,167.1L442.7,166.3L443.4,165.5L444.2,164.7L445.0,164.0L445.8,163.2L446.6,162.5L447.5,161.8L448.3,161.1L449.2,160.4L450.0,159.7L450.9,159.0L451.7,158.2L452.3,157.4L452.9,156.4L453.4,155.5L453.9,154.5L454.4,153.5L454.8,152.5L455.2,151.4L455.6,150.4L455.9,149.4L456.3,148.3L456.6,147.3L456.9,146.2L457.3,145.2L457.7,144.1L458.1,143.1L458.5,142.1L458.8,141.1L459.2,140.0L459.6,139.0L460.0,138.0L460.4,136.9L460.8,135.9L461.2,134.9L461.6,133.9L462.0,132.8L462.4,131.8L462.7,130.8L463.1,129.7L463.4,128.7L463.7,127.6L464.0,126.6L464.3,125.5L464.6,124.5L464.9,123.4L465.3,122.3L465.6,121.3L465.9,120.2L466.3,119.2L466.7,118.2L467.0,117.1L467.4,116.1L467.8,115.1L468.2,114.0L468.6,113.0L469.0,112.0L469.4,111.0L469.8,110.0L470.2,108.9L470.6,107.9L471.0,106.9L471.5,105.9L471.9,104.9L472.3,103.8L472.7,102.8L473.2,101.8L473.6,100.8L474.1,99.8L474.6,98.8L475.1,97.8L475.5,96.9L476.1,95.9L476.6,94.9L477.1,94.0L477.7,93.0L478.3,92.1L478.9,91.2L479.6,90.3L480.3,89.5L481.0,88.6L481.7,87.8L482.5,87.0L483.3,86.3L484.2,85.6L485.1,85.0L486.1,84.7L487.2,84.6L488.3,84.8L489.3,85.2L490.3,85.7L491.3,86.2L492.2,86.8L493.1,87.4L494.0,88.1L494.8,88.8L495.6,89.6L496.4,90.3L497.2,91.1L497.9,91.9L498.7,92.7L499.5,93.5L500.2,94.3L501.0,95.1L501.8,95.8L502.7,96.5L503.6,97.2L504.4,97.8L505.3,98.5L506.2,99.2L507.0,99.9L507.8,100.6L508.6,101.4L509.3,102.2L510.0,103.1L510.6,104.0L511.2,104.9L511.8,105.9L512.3,106.9L512.8,107.8L513.4,108.8L513.9,109.8L514.4,110.7L514.9,111.7L515.4,112.7L515.9,113.7L516.3,114.7L516.8,115.7L517.3,116.6L517.8,117.6L518.3,118.6L518.8,119.6L519.3,120.6L519.9,121.5L520.5,122.4L521.2,123.3L521.9,124.1L522.7,124.9L523.5,125.7L524.3,126.4L525.2,127.1L526.1,127.7L527.0,128.2L528.0,128.8L528.9,129.4L529.8,130.0L530.7,130.6L531.5,131.4L532.3,132.2L533.0,133.0L533.6,133.9L534.3,134.8L534.9,135.7L535.5,136.7L536.0,137.6L536.6,138.5L537.2,139.5L537.8,140.4L538.5,141.3L539.2,142.1L540.0,142.8L540.9,143.5L541.8,144.2L542.6,144.8L543.4,145.6L544.2,146.4L544.9,147.2L545.5,148.1L546.1,149.0L546.7,150.0L547.3,150.9L547.9,151.8L548.5,152.8L549.1,153.7L549.6,154.6L550.2,155.5L550.9,156.5L551.5,157.3L552.3,158.1L553.1,158.9L554.0,159.5L555.0,160.0L556.0,160.4L557.1,160.7L558.1,160.9L559.2,160.9L560.3,160.9L561.4,160.7L562.5,160.5L563.5,160.1L564.6,159.7L565.6,159.3L566.6,158.8L567.5,158.2L568.4,157.6L569.3,157.0L570.2,156.3L571.1,155.7L572.0,155.0L572.9,154.4L573.8,153.9L574.9,153.5L576.0,153.4L577.0,153.7L577.8,154.4L578.5,155.3L579.1,156.3L579.6,157.2L580.0,158.2L580.4,159.3L580.8,160.3L581.1,161.3L581.5,162.4L581.8,163.4L582.1,164.5L582.4,165.6L582.7,166.6L582.9,167.7L583.1,168.8L583.3,169.9L583.6,170.9L583.8,172.0L584.0,173.1L584.3,174.2L584.5,175.2L584.8,176.3L585.0,177.4L585.3,178.4L585.6,179.5L585.9,180.6L586.2,181.6L586.5,182.7L586.8,183.7L587.1,184.8L587.4,185.8L587.7,186.9L588.1,187.9L588.4,189.0L588.7,190.0L589.0,191.1L589.4,192.1L589.7,193.2L590.0,194.3L590.3,195.3L590.7,196.3L591.0,197.4L591.4,198.4L591.8,199.4L592.3,200.4L592.9,201.3L593.6,202.2L594.4,202.9L595.3,203.6L596.3,204.1L597.3,204.5L598.3,204.9L598.5,205.0" fill="none" stroke="#ff0000" stroke-width="2.1" stroke-linejoin="round" stroke-linecap="butt"/>
<path d="M326.0,126.4L326.7,127.2L327.4,128.1L328.1,128.9L328.8,129.8L329.5,130.6L330.2,131.5L330.8,132.4L331.4,133.3L332.0,134.3L332.5,135.2L333.0,136.2L333.5,137.2L334.0,138.2L334.5,139.2L335.0,140.2L335.4,141.2L335.9,142.1L336.4,143.1L336.9,144.1L337.4,145.1L337.8,146.1L338.3,147.1L338.8,148.1L339.3,149.1L339.8,150.0L340.3,151.0L340.9,151.9L341.5,152.8L342.2,153.7L343.0,154.5L343.8,155.2L344.8,155.8L345.8,156.1L346.9,156.1L347.9,155.7L348.8,155.1L349.6,154.3L350.3,153.5L351.0,152.7L351.7,151.8L352.4,150.9L353.0,150.0L353.7,149.1L354.3,148.2L354.9,147.3L355.5,146.4L356.1,145.4L356.7,144.5L357.3,143.6L357.9,142.7L358.5,141.8L359.2,140.9L359.8,140.0L360.4,139.1L361.1,138.2L361.8,137.3L362.4,136.5L363.1,135.6L363.8,134.7L364.5,133.9L365.2,133.0L365.9,132.2L366.6,131.4L367.4,130.6L368.2,129.8L369.0,129.1L370.0,128.5L370.9,128.1L372.0,127.8L373.1,127.9L374.1,128.3L375.0,129.0L375.8,129.8L376.5,130.6L377.1,131.6L377.6,132.5L378.1,133.5L378.6,134.5L379.2,135.4L380.1,136.0L381.2,135.9L382.0,135.1L382.6,134.2L383.1,133.3L383.6,132.3L384.1,131.3L384.5,130.3L385.0,129.3L385.4,128.2L385.8,127.2L386.1,126.2L386.5,125.2L386.9,124.1L387.3,123.1L387.6,122.0L388.0,121.0L388.3,119.9L388.6,118.9L389.0,117.9L389.3,116.8L389.7,115.8L390.1,114.8L390.5,113.7L391.0,112.7L391.4,111.7L391.8,110.7L392.3,109.7L392.8,108.7L393.3,107.8L393.9,106.8L394.5,105.9L395.1,105.0L396.0,104.4L397.1,104.4L397.9,105.1L398.5,106.1L399.0,107.0L399.4,108.1L399.8,109.1L400.2,110.1L400.6,111.2L400.9,112.2L401.2,113.3L401.5,114.3L401.8,115.4L402.1,116.4L402.4,117.5L402.6,118.6L402.9,119.6L403.2,120.7L403.4,121.8L403.7,122.8L403.9,123.9L404.2,125.0L404.4,126.1L404.7,127.1L404.9,128.2L405.2,129.3L405.4,130.4L405.6,131.4L405.9,132.5L406.1,133.6L406.4,134.6L406.6,135.7L406.9,136.8L407.1,137.9L407.3,138.9L407.6,140.0L407.8,141.1L408.0,142.2L408.3,143.2L408.5,144.3L408.8,145.4L409.1,146.4L409.3,147.5L409.6,148.6L409.9,149.6L410.2,150.7L410.5,151.7L410.8,152.8L411.1,153.9L411.5,154.9L411.8,155.9L412.2,157.0L412.5,158.0L412.9,159.1L413.3,160.1L413.7,161.1L414.1,162.1L414.6,163.1L415.1,164.1L415.6,165.1L416.2,166.0L416.9,166.9L417.6,167.7L418.3,168.6L419.0,169.4L419.7,170.2L420.4,171.1L421.1,171.9L421.8,172.8L422.5,173.7L423.1,174.6L423.7,175.5L424.3,176.4L424.9,177.3L425.5,178.3L426.1,179.2L426.7,180.1L427.3,181.0L427.9,181.9L428.6,182.8L429.2,183.7L429.9,184.6L430.6,185.5L431.2,186.3L432.0,187.1L432.8,187.9L433.6,188.6L434.5,189.2L435.5,189.7L436.5,190.2L437.6,190.5L438.6,190.8L439.7,191.0L440.8,191.3L441.8,191.5L442.9,191.7L444.0,191.9L445.1,192.1L446.2,192.2L447.3,192.2L448.4,192.0L449.4,191.6L450.3,191.0L451.1,190.2L451.7,189.3L452.3,188.4L452.8,187.4L453.3,186.4L453.7,185.4L454.1,184.4L454.5,183.3L454.9,182.3L455.2,181.3L455.6,180.2L455.9,179.2L456.3,178.1L456.6,177.1L457.0,176.0L457.3,175.0L457.6,173.9L458.0,172.9L458.3,171.8L458.6,170.8L458.9,169.7L459.2,168.7L459.5,167.6L459.8,166.6L460.2,165.5L460.5,164.5L460.8,163.4L461.2,162.4L461.5,161.3L461.9,160.3L462.2,159.2L462.6,158.2L462.9,157.2L463.3,156.1L463.6,155.1L464.0,154.0L464.3,153.0L464.7,151.9L465.0,150.9L465.4,149.9L465.7,148.8L466.1,147.8L466.4,146.7L466.8,145.7L467.1,144.6L467.5,143.6L467.8,142.6L468.2,141.5L468.6,140.5L468.9,139.4L469.2,138.4L469.6,137.3L469.9,136.3L470.2,135.2L470.5,134.2L470.8,133.1L471.1,132.1L471.4,131.0L471.7,130.0L472.0,128.9L472.3,127.8L472.6,126.8L472.9,125.7L473.2,124.7L473.5,123.6L473.8,122.5L474.2,121.5L474.5,120.5L474.9,119.4L475.2,118.4L475.6,117.3L476.0,116.3L476.3,115.3L476.7,114.2L477.1,113.2L477.5,112.2L477.9,111.2L478.3,110.1L478.8,109.1L479.2,108.1L479.6,107.1L480.1,106.1L480.5,105.1L481.0,104.1L481.5,103.1L482.0,102.1L482.5,101.2L483.0,100.2L483.6,99.3L484.2,98.4L484.9,97.5L485.6,96.6L486.2,95.7L487.0,94.9L487.7,94.1L488.5,93.3L489.3,92.6L490.2,92.0L491.2,91.5L492.3,91.2L493.4,91.3L494.4,91.6L495.4,92.1L496.4,92.6L497.2,93.3L498.1,94.0L498.8,94.8L499.6,95.6L500.4,96.3L501.3,97.0L502.1,97.7L503.0,98.4L503.8,99.1L504.7,99.8L505.6,100.4L506.5,101.1L507.4,101.7L508.3,102.3L509.2,103.0L510.0,103.8L510.7,104.5L511.5,105.4L512.2,106.2L512.9,107.1L513.6,107.9L514.2,108.8L514.9,109.6L515.6,110.5L516.4,111.3L517.2,112.1L518.0,112.7L518.9,113.4L519.9,113.9L520.9,114.4L521.8,114.9L522.8,115.5L523.7,116.0L524.7,116.6L525.6,117.3L526.4,117.9L527.3,118.7L528.0,119.4L528.8,120.3L529.4,121.1L530.1,122.0L530.7,122.9L531.3,123.9L531.9,124.8L532.4,125.8L532.9,126.7L533.4,127.7L533.9,128.7L534.3,129.7L534.8,130.7L535.1,131.8L535.5,132.8L535.9,133.8L536.3,134.9L536.7,135.9L537.2,136.9L537.7,137.8L538.2,138.8L538.8,139.8L539.3,140.7L539.9,141.6L540.5,142.6L541.1,143.5L541.7,144.4L542.3,145.3L542.9,146.2L543.5,147.2L544.1,148.1L544.6,149.1L545.2,150.0L545.7,151.0L546.3,151.9L546.8,152.9L547.4,153.8L548.0,154.8L548.5,155.7L549.2,156.6L549.8,157.5L550.5,158.3L551.3,159.1L552.2,159.8L553.1,160.4L554.1,160.9L555.1,161.4L556.1,161.7L557.2,162.0L558.2,162.2L559.3,162.4L560.4,162.5L561.5,162.5L562.6,162.5L563.7,162.4L564.8,162.2L565.9,162.0L567.0,161.8L568.0,161.6L569.1,161.5L570.2,161.5L571.3,161.9L572.2,162.4L573.1,163.1L573.8,163.9L574.5,164.7L575.2,165.6L575.8,166.6L576.3,167.5L576.8,168.5L577.2,169.6L577.5,170.6L577.9,171.6L578.2,172.7L578.5,173.8L578.7,174.8L579.0,175.9L579.3,177.0L579.5,178.0L579.8,179.1L580.0,180.2L580.3,181.2L580.5,182.3L580.7,183.4L580.9,184.5L581.2,185.5L581.4,186.6L581.6,187.7L581.8,188.8L582.0,189.9L582.2,190.9L582.4,192.0L582.6,193.1L582.8,194.2L583.1,195.3L583.3,196.3L583.5,197.4L583.7,198.5L584.0,199.6L584.2,200.6L584.4,201.7L584.7,202.8L584.9,203.9L585.1,204.9L585.4,206.0L585.6,207.1L585.8,208.2L586.0,209.2L586.3,210.3L586.5,211.4L586.7,212.5L586.9,213.6L587.1,214.6L587.3,215.7L587.5,216.8L587.7,217.9L587.9,219.0L588.1,220.0L588.4,221.1L588.6,222.2L588.8,223.3L589.1,224.3L589.4,225.4L589.7,226.5L590.0,227.5L590.3,228.6L590.7,229.6L591.0,230.6L591.4,231.7L591.9,232.7L592.4,233.6L593.0,234.5L593.8,235.4L594.6,236.1L595.6,236.6L596.6,237.0L597.6,237.3L598.5,237.5" fill="none" stroke="#ff0000" stroke-width="3.3" stroke-linejoin="round" stroke-linecap="butt"/>
<line x1="22.0" y1="2" x2="22.0" y2="276.4" stroke="#8e8e8e" stroke-width="1.8"/>
<line x1="21.1" y1="275.65" x2="295.2" y2="275.65" stroke="#8e8e8e" stroke-width="1.5"/>
<line x1="20.4" y1="270.5" x2="21.8" y2="270.5" stroke="#333" stroke-width="1"/>
<line x1="20.8" y1="261.9" x2="21.8" y2="261.9" stroke="#333" stroke-width="1"/>
<line x1="20.8" y1="253.3" x2="21.8" y2="253.3" stroke="#333" stroke-width="1"/>
<line x1="20.8" y1="244.7" x2="21.8" y2="244.7" stroke="#333" stroke-width="1"/>
<line x1="20.8" y1="236.1" x2="21.8" y2="236.1" stroke="#333" stroke-width="1"/>
<line x1="20.4" y1="227.5" x2="21.8" y2="227.5" stroke="#333" stroke-width="1"/>
<line x1="20.8" y1="218.9" x2="21.8" y2="218.9" stroke="#333" stroke-width="1"/>
<line x1="20.8" y1="210.3" x2="21.8" y2="210.3" stroke="#333" stroke-width="1"/>
<line x1="20.8" y1="201.7" x2="21.8" y2="201.7" stroke="#333" stroke-width="1"/>
<line x1="20.8" y1="193.1" x2="21.8" y2="193.1" stroke="#333" stroke-width="1"/>
<line x1="20.4" y1="184.5" x2="21.8" y2="184.5" stroke="#333" stroke-width="1"/>
<line x1="20.8" y1="175.9" x2="21.8" y2="175.9" stroke="#333" stroke-width="1"/>
<line x1="20.8" y1="167.3" x2="21.8" y2="167.3" stroke="#333" stroke-width="1"/>
<line x1="20.8" y1="158.7" x2="21.8" y2="158.7" stroke="#333" stroke-width="1"/>
<line x1="20.8" y1="150.1" x2="21.8" y2="150.1" stroke="#333" stroke-width="1"/>
<line x1="20.4" y1="141.5" x2="21.8" y2="141.5" stroke="#333" stroke-width="1"/>
<line x1="20.8" y1="132.9" x2="21.8" y2="132.9" stroke="#333" stroke-width="1"/>
<line x1="20.8" y1="124.3" x2="21.8" y2="124.3" stroke="#333" stroke-width="1"/>
<line x1="20.8" y1="115.7" x2="21.8" y2="115.7" stroke="#333" stroke-width="1"/>
<line x1="20.8" y1="107.1" x2="21.8" y2="107.1" stroke="#333" stroke-width="1"/>
<line x1="20.4" y1="98.5" x2="21.8" y2="98.5" stroke="#333" stroke-width="1"/>
<line x1="20.8" y1="89.9" x2="21.8" y2="89.9" stroke="#333" stroke-width="1"/>
<line x1="20.8" y1="81.3" x2="21.8" y2="81.3" stroke="#333" stroke-width="1"/>
<line x1="20.8" y1="72.7" x2="21.8" y2="72.7" stroke="#333" stroke-width="1"/>
<line x1="20.8" y1="64.1" x2="21.8" y2="64.1" stroke="#333" stroke-width="1"/>
<line x1="20.4" y1="55.5" x2="21.8" y2="55.5" stroke="#333" stroke-width="1"/>
<line x1="20.8" y1="46.9" x2="21.8" y2="46.9" stroke="#333" stroke-width="1"/>
<line x1="20.8" y1="38.3" x2="21.8" y2="38.3" stroke="#333" stroke-width="1"/>
<line x1="20.8" y1="29.7" x2="21.8" y2="29.7" stroke="#333" stroke-width="1"/>
<line x1="20.8" y1="21.1" x2="21.8" y2="21.1" stroke="#333" stroke-width="1"/>
<line x1="20.4" y1="12.5" x2="21.8" y2="12.5" stroke="#333" stroke-width="1"/>
<line x1="20.8" y1="3.9" x2="21.8" y2="3.9" stroke="#333" stroke-width="1"/>
<line x1="31.1" y1="276.0" x2="31.1" y2="277.1" stroke="#333" stroke-width="1"/>
<line x1="40.2" y1="276.0" x2="40.2" y2="277.1" stroke="#333" stroke-width="1"/>
<line x1="49.3" y1="276.0" x2="49.3" y2="277.1" stroke="#333" stroke-width="1"/>
<line x1="58.4" y1="276.0" x2="58.4" y2="277.1" stroke="#333" stroke-width="1"/>
<line x1="67.5" y1="276.0" x2="67.5" y2="277.7" stroke="#333" stroke-width="1"/>
<line x1="76.6" y1="276.0" x2="76.6" y2="277.1" stroke="#333" stroke-width="1"/>
<line x1="85.7" y1="276.0" x2="85.7" y2="277.1" stroke="#333" stroke-width="1"/>
<line x1="94.8" y1="276.0" x2="94.8" y2="277.1" stroke="#333" stroke-width="1"/>
<line x1="103.9" y1="276.0" x2="103.9" y2="277.1" stroke="#333" stroke-width="1"/>
<line x1="113.0" y1="276.0" x2="113.0" y2="277.7" stroke="#333" stroke-width="1"/>
<line x1="122.1" y1="276.0" x2="122.1" y2="277.1" stroke="#333" stroke-width="1"/>
<line x1="131.2" y1="276.0" x2="131.2" y2="277.1" stroke="#333" stroke-width="1"/>
<line x1="140.3" y1="276.0" x2="140.3" y2="277.1" stroke="#333" stroke-width="1"/>
<line x1="149.4" y1="276.0" x2="149.4" y2="277.1" stroke="#333" stroke-width="1"/>
<line x1="158.5" y1="276.0" x2="158.5" y2="277.7" stroke="#333" stroke-width="1"/>
<line x1="167.6" y1="276.0" x2="167.6" y2="277.1" stroke="#333" stroke-width="1"/>
<line x1="176.7" y1="276.0" x2="176.7" y2="277.1" stroke="#333" stroke-width="1"/>
<line x1="185.8" y1="276.0" x2="185.8" y2="277.1" stroke="#333" stroke-width="1"/>
<line x1="194.9" y1="276.0" x2="194.9" y2="277.1" stroke="#333" stroke-width="1"/>
<line x1="204.0" y1="276.0" x2="204.0" y2="277.7" stroke="#333" stroke-width="1"/>
<line x1="213.1" y1="276.0" x2="213.1" y2="277.1" stroke="#333" stroke-width="1"/>
<line x1="222.2" y1="276.0" x2="222.2" y2="277.1" stroke="#333" stroke-width="1"/>
<line x1="231.3" y1="276.0" x2="231.3" y2="277.1" stroke="#333" stroke-width="1"/>
<line x1="240.4" y1="276.0" x2="240.4" y2="277.1" stroke="#333" stroke-width="1"/>
<line x1="249.5" y1="276.0" x2="249.5" y2="277.7" stroke="#333" stroke-width="1"/>
<line x1="258.6" y1="276.0" x2="258.6" y2="277.1" stroke="#333" stroke-width="1"/>
<line x1="267.7" y1="276.0" x2="267.7" y2="277.1" stroke="#333" stroke-width="1"/>
<line x1="276.8" y1="276.0" x2="276.8" y2="277.1" stroke="#333" stroke-width="1"/>
<line x1="285.9" y1="276.0" x2="285.9" y2="277.1" stroke="#333" stroke-width="1"/>
<text x="20.0" y="58.5" font-size="8.4" text-anchor="end" class="t">2</text>
<text x="20.0" y="101.5" font-size="8.4" text-anchor="end" class="t">1</text>
<text x="20.0" y="144.5" font-size="8.4" text-anchor="end" class="t">0</text>
<text x="20.0" y="187.5" font-size="8.4" text-anchor="end" class="t">-1</text>
<text x="20.0" y="230.5" font-size="8.4" text-anchor="end" class="t">-2</text>
<text x="20.0" y="273.5" font-size="8.4" text-anchor="end" class="t">-3</text>
<text x="67.9" y="285.9" font-size="8.4" text-anchor="middle" class="t">0</text>
<text x="113.4" y="285.9" font-size="8.4" text-anchor="middle" class="t">100</text>
<text x="158.9" y="285.9" font-size="8.4" text-anchor="middle" class="t">200</text>
<text x="204.4" y="285.9" font-size="8.4" text-anchor="middle" class="t">300</text>
<text x="249.9" y="285.9" font-size="8.4" text-anchor="middle" class="t">400</text>
<text x="289.3" y="285.9" font-size="8.4" text-anchor="middle" class="t">ms</text>
<text x="20.0" y="10" font-size="8.4" text-anchor="end" class="t">µV</text>
<line x1="325.5" y1="2" x2="325.5" y2="276.4" stroke="#8e8e8e" stroke-width="1.8"/>
<line x1="324.6" y1="275.65" x2="598.7" y2="275.65" stroke="#8e8e8e" stroke-width="1.5"/>
<line x1="323.9" y1="270.5" x2="325.3" y2="270.5" stroke="#333" stroke-width="1"/>
<line x1="324.3" y1="261.9" x2="325.3" y2="261.9" stroke="#333" stroke-width="1"/>
<line x1="324.3" y1="253.3" x2="325.3" y2="253.3" stroke="#333" stroke-width="1"/>
<line x1="324.3" y1="244.7" x2="325.3" y2="244.7" stroke="#333" stroke-width="1"/>
<line x1="324.3" y1="236.1" x2="325.3" y2="236.1" stroke="#333" stroke-width="1"/>
<line x1="323.9" y1="227.5" x2="325.3" y2="227.5" stroke="#333" stroke-width="1"/>
<line x1="324.3" y1="218.9" x2="325.3" y2="218.9" stroke="#333" stroke-width="1"/>
<line x1="324.3" y1="210.3" x2="325.3" y2="210.3" stroke="#333" stroke-width="1"/>
<line x1="324.3" y1="201.7" x2="325.3" y2="201.7" stroke="#333" stroke-width="1"/>
<line x1="324.3" y1="193.1" x2="325.3" y2="193.1" stroke="#333" stroke-width="1"/>
<line x1="323.9" y1="184.5" x2="325.3" y2="184.5" stroke="#333" stroke-width="1"/>
<line x1="324.3" y1="175.9" x2="325.3" y2="175.9" stroke="#333" stroke-width="1"/>
<line x1="324.3" y1="167.3" x2="325.3" y2="167.3" stroke="#333" stroke-width="1"/>
<line x1="324.3" y1="158.7" x2="325.3" y2="158.7" stroke="#333" stroke-width="1"/>
<line x1="324.3" y1="150.1" x2="325.3" y2="150.1" stroke="#333" stroke-width="1"/>
<line x1="323.9" y1="141.5" x2="325.3" y2="141.5" stroke="#333" stroke-width="1"/>
<line x1="324.3" y1="132.9" x2="325.3" y2="132.9" stroke="#333" stroke-width="1"/>
<line x1="324.3" y1="124.3" x2="325.3" y2="124.3" stroke="#333" stroke-width="1"/>
<line x1="324.3" y1="115.7" x2="325.3" y2="115.7" stroke="#333" stroke-width="1"/>
<line x1="324.3" y1="107.1" x2="325.3" y2="107.1" stroke="#333" stroke-width="1"/>
<line x1="323.9" y1="98.5" x2="325.3" y2="98.5" stroke="#333" stroke-width="1"/>
<line x1="324.3" y1="89.9" x2="325.3" y2="89.9" stroke="#333" stroke-width="1"/>
<line x1="324.3" y1="81.3" x2="325.3" y2="81.3" stroke="#333" stroke-width="1"/>
<line x1="324.3" y1="72.7" x2="325.3" y2="72.7" stroke="#333" stroke-width="1"/>
<line x1="324.3" y1="64.1" x2="325.3" y2="64.1" stroke="#333" stroke-width="1"/>
<line x1="323.9" y1="55.5" x2="325.3" y2="55.5" stroke="#333" stroke-width="1"/>
<line x1="324.3" y1="46.9" x2="325.3" y2="46.9" stroke="#333" stroke-width="1"/>
<line x1="324.3" y1="38.3" x2="325.3" y2="38.3" stroke="#333" stroke-width="1"/>
<line x1="324.3" y1="29.7" x2="325.3" y2="29.7" stroke="#333" stroke-width="1"/>
<line x1="324.3" y1="21.1" x2="325.3" y2="21.1" stroke="#333" stroke-width="1"/>
<line x1="323.9" y1="12.5" x2="325.3" y2="12.5" stroke="#333" stroke-width="1"/>
<line x1="324.3" y1="3.9" x2="325.3" y2="3.9" stroke="#333" stroke-width="1"/>
<line x1="334.6" y1="276.0" x2="334.6" y2="277.1" stroke="#333" stroke-width="1"/>
<line x1="343.7" y1="276.0" x2="343.7" y2="277.1" stroke="#333" stroke-width="1"/>
<line x1="352.8" y1="276.0" x2="352.8" y2="277.1" stroke="#333" stroke-width="1"/>
<line x1="361.9" y1="276.0" x2="361.9" y2="277.1" stroke="#333" stroke-width="1"/>
<line x1="371.0" y1="276.0" x2="371.0" y2="277.7" stroke="#333" stroke-width="1"/>
<line x1="380.1" y1="276.0" x2="380.1" y2="277.1" stroke="#333" stroke-width="1"/>
<line x1="389.2" y1="276.0" x2="389.2" y2="277.1" stroke="#333" stroke-width="1"/>
<line x1="398.3" y1="276.0" x2="398.3" y2="277.1" stroke="#333" stroke-width="1"/>
<line x1="407.4" y1="276.0" x2="407.4" y2="277.1" stroke="#333" stroke-width="1"/>
<line x1="416.5" y1="276.0" x2="416.5" y2="277.7" stroke="#333" stroke-width="1"/>
<line x1="425.6" y1="276.0" x2="425.6" y2="277.1" stroke="#333" stroke-width="1"/>
<line x1="434.7" y1="276.0" x2="434.7" y2="277.1" stroke="#333" stroke-width="1"/>
<line x1="443.8" y1="276.0" x2="443.8" y2="277.1" stroke="#333" stroke-width="1"/>
<line x1="452.9" y1="276.0" x2="452.9" y2="277.1" stroke="#333" stroke-width="1"/>
<line x1="462.0" y1="276.0" x2="462.0" y2="277.7" stroke="#333" stroke-width="1"/>
<line x1="471.1" y1="276.0" x2="471.1" y2="277.1" stroke="#333" stroke-width="1"/>
<line x1="480.2" y1="276.0" x2="480.2" y2="277.1" stroke="#333" stroke-width="1"/>
<line x1="489.3" y1="276.0" x2="489.3" y2="277.1" stroke="#333" stroke-width="1"/>
<line x1="498.4" y1="276.0" x2="498.4" y2="277.1" stroke="#333" stroke-width="1"/>
<line x1="507.5" y1="276.0" x2="507.5" y2="277.7" stroke="#333" stroke-width="1"/>
<line x1="516.6" y1="276.0" x2="516.6" y2="277.1" stroke="#333" stroke-width="1"/>
<line x1="525.7" y1="276.0" x2="525.7" y2="277.1" stroke="#333" stroke-width="1"/>
<line x1="534.8" y1="276.0" x2="534.8" y2="277.1" stroke="#333" stroke-width="1"/>
<line x1="543.9" y1="276.0" x2="543.9" y2="277.1" stroke="#333" stroke-width="1"/>
<line x1="553.0" y1="276.0" x2="553.0" y2="277.7" stroke="#333" stroke-width="1"/>
<line x1="562.1" y1="276.0" x2="562.1" y2="277.1" stroke="#333" stroke-width="1"/>
<line x1="571.2" y1="276.0" x2="571.2" y2="277.1" stroke="#333" stroke-width="1"/>
<line x1="580.3" y1="276.0" x2="580.3" y2="277.1" stroke="#333" stroke-width="1"/>
<line x1="589.4" y1="276.0" x2="589.4" y2="277.1" stroke="#333" stroke-width="1"/>
<text x="323.5" y="58.5" font-size="8.4" text-anchor="end" class="t">2</text>
<text x="323.5" y="101.5" font-size="8.4" text-anchor="end" class="t">1</text>
<text x="323.5" y="144.5" font-size="8.4" text-anchor="end" class="t">0</text>
<text x="323.5" y="187.5" font-size="8.4" text-anchor="end" class="t">-1</text>
<text x="323.5" y="230.5" font-size="8.4" text-anchor="end" class="t">-2</text>
<text x="323.5" y="273.5" font-size="8.4" text-anchor="end" class="t">-3</text>
<text x="371.4" y="285.9" font-size="8.4" text-anchor="middle" class="t">0</text>
<text x="416.9" y="285.9" font-size="8.4" text-anchor="middle" class="t">100</text>
<text x="462.4" y="285.9" font-size="8.4" text-anchor="middle" class="t">200</text>
<text x="507.9" y="285.9" font-size="8.4" text-anchor="middle" class="t">300</text>
<text x="553.4" y="285.9" font-size="8.4" text-anchor="middle" class="t">400</text>
<text x="592.8" y="285.9" font-size="8.4" text-anchor="middle" class="t">ms</text>
<text x="323.5" y="10" font-size="8.4" text-anchor="end" class="t">µV</text>
<text x="152.4" y="12.8" font-size="16.8" text-anchor="middle">HC</text>
<text x="455.8" y="12.8" font-size="16.6" text-anchor="middle">SZ</text>
<text transform="translate(8.6,146.7) rotate(-90) scale(1,0.8)" font-size="12.2" style="stroke-width:0.12px" text-anchor="middle">Amplitude</text>
<text x="212.4" y="316.2" font-size="11.7">RP<tspan font-size="9.2" dy="3.2">3</tspan></text>
<line x1="249.3" y1="311.5" x2="277.2" y2="311.5" stroke="#000" stroke-width="1.0"/>
<text x="300.5" y="316.2" font-size="11.7">DN<tspan font-size="9.2" dy="3.2">3</tspan></text>
<line x1="339.7" y1="311.0" x2="367.6" y2="311.0" stroke="#ff0000" stroke-width="1.0"/>
<text x="212.4" y="331.8" font-size="11.7">RP<tspan font-size="9.2" dy="3.2">8</tspan></text>
<line x1="249.3" y1="327.3" x2="277.2" y2="327.3" stroke="#000" stroke-width="1.9"/>
<text x="300.5" y="331.8" font-size="11.7">DN<tspan font-size="9.2" dy="3.2">8</tspan></text>
<line x1="339.7" y1="326.7" x2="367.6" y2="326.7" stroke="#ff0000" stroke-width="1.9"/>
<text x="212.4" y="346.9" font-size="11.7">RP<tspan font-size="9.2" dy="3.2">33</tspan></text>
<line x1="249.3" y1="343.5" x2="277.2" y2="343.5" stroke="#000" stroke-width="3.5"/>
<text x="300.5" y="346.9" font-size="11.7">DN<tspan font-size="9.2" dy="3.2">33</tspan></text>
<line x1="339.7" y1="343.0" x2="367.6" y2="343.0" stroke="#ff0000" stroke-width="3.5"/>
</svg>
</body></html>
